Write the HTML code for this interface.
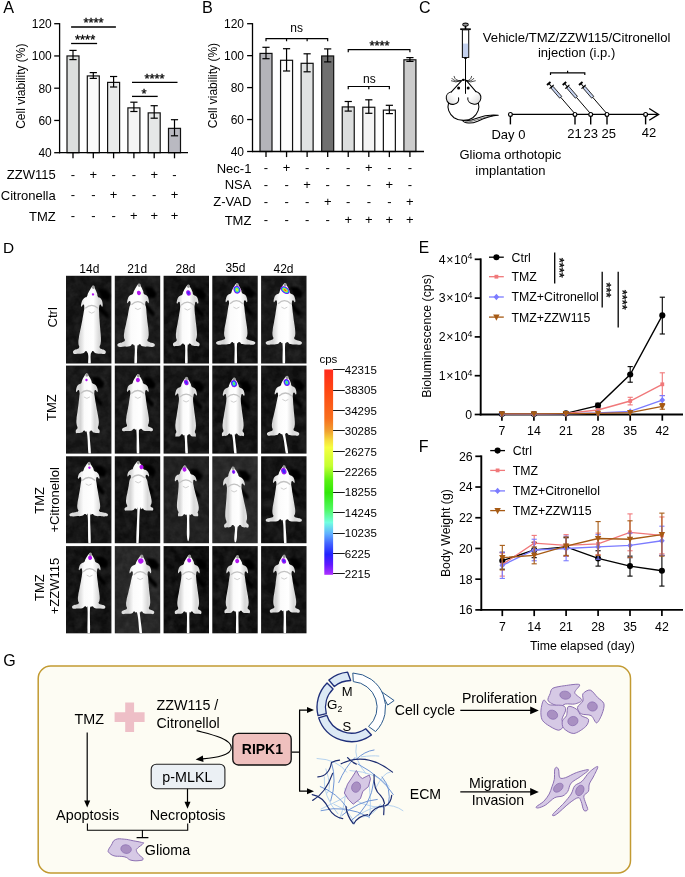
<!DOCTYPE html>
<html lang="en"><head><meta charset="utf-8"><title>Figure</title>
<style>html,body{margin:0;padding:0;background:#fff;width:685px;height:877px;overflow:hidden}svg{display:block;will-change:transform}text{font-family:"Liberation Sans",sans-serif}</style>
</head><body>
<svg width="685" height="877" viewBox="0 0 685 877">
<defs>
<linearGradient id="cbar" x1="0" y1="0" x2="0" y2="1">
<stop offset="0" stop-color="#ff2a1c"/>
<stop offset="0.1" stop-color="#ff4612"/>
<stop offset="0.24" stop-color="#f8701e"/>
<stop offset="0.3" stop-color="#f0a030"/>
<stop offset="0.345" stop-color="#f6dc3c"/>
<stop offset="0.38" stop-color="#f6ff40"/>
<stop offset="0.47" stop-color="#c4ff30"/>
<stop offset="0.54" stop-color="#58f010"/>
<stop offset="0.6" stop-color="#30e808"/>
<stop offset="0.68" stop-color="#50f860"/>
<stop offset="0.745" stop-color="#72ffe0"/>
<stop offset="0.8" stop-color="#60b0ff"/>
<stop offset="0.85" stop-color="#4060ff"/>
<stop offset="0.9" stop-color="#2222ff"/>
<stop offset="0.95" stop-color="#6018ff"/>
<stop offset="1" stop-color="#b030ff"/>
</linearGradient>
<linearGradient id="earL" x1="1" y1="0" x2="0" y2="1"><stop offset="0" stop-color="#ffffff"/><stop offset="0.35" stop-color="#ffffff"/><stop offset="0.7" stop-color="#e6e6e6"/><stop offset="1" stop-color="#d2d2d2"/></linearGradient>
<linearGradient id="earR" x1="0" y1="0" x2="1" y2="1"><stop offset="0" stop-color="#ffffff"/><stop offset="0.35" stop-color="#ffffff"/><stop offset="0.7" stop-color="#e6e6e6"/><stop offset="1" stop-color="#d2d2d2"/></linearGradient>
<linearGradient id="mouseg" x1="0" y1="0" x2="1" y2="0"><stop offset="0" stop-color="#e2e2e2"/><stop offset="0.2" stop-color="#d4d4d4"/><stop offset="0.36" stop-color="#fbfbfb"/><stop offset="0.62" stop-color="#ffffff"/><stop offset="0.8" stop-color="#d8d8d8"/><stop offset="1" stop-color="#e4e4e4"/></linearGradient>
<filter id="sblur" x="-30%" y="-30%" width="160%" height="160%"><feGaussianBlur stdDeviation="1.0"/></filter>
<filter id="mblur" x="-5%" y="-5%" width="110%" height="110%"><feGaussianBlur stdDeviation="0.65"/></filter>
<filter id="noise" x="0" y="0" width="100%" height="100%"><feTurbulence type="fractalNoise" baseFrequency="0.12" numOctaves="3" seed="4" result="n"/><feColorMatrix type="matrix" values="0 0 0 0 0.2  0 0 0 0 0.2  0 0 0 0 0.2  1.1 1.1 0 0 -0.75"/></filter>
<clipPath id="cells"><rect x="66.0" y="275.8" width="45.4" height="87.70"/><rect x="114.8" y="275.8" width="45.4" height="87.70"/><rect x="163.6" y="275.8" width="45.4" height="87.70"/><rect x="212.3" y="275.8" width="45.4" height="87.70"/><rect x="261.1" y="275.8" width="45.4" height="87.70"/><rect x="66.0" y="365.6" width="45.4" height="88.00"/><rect x="114.8" y="365.6" width="45.4" height="88.00"/><rect x="163.6" y="365.6" width="45.4" height="88.00"/><rect x="212.3" y="365.6" width="45.4" height="88.00"/><rect x="261.1" y="365.6" width="45.4" height="88.00"/><rect x="66.0" y="456.3" width="45.4" height="86.90"/><rect x="114.8" y="456.3" width="45.4" height="86.90"/><rect x="163.6" y="456.3" width="45.4" height="86.90"/><rect x="212.3" y="456.3" width="45.4" height="86.90"/><rect x="261.1" y="456.3" width="45.4" height="86.90"/><rect x="66.0" y="546.1" width="45.4" height="87.20"/><rect x="114.8" y="546.1" width="45.4" height="87.20"/><rect x="163.6" y="546.1" width="45.4" height="87.20"/><rect x="212.3" y="546.1" width="45.4" height="87.20"/><rect x="261.1" y="546.1" width="45.4" height="87.20"/></clipPath>
<clipPath id="cell00"><rect x="66.0" y="275.8" width="45.4" height="87.70"/></clipPath>
<clipPath id="cell01"><rect x="114.8" y="275.8" width="45.4" height="87.70"/></clipPath>
<clipPath id="cell02"><rect x="163.6" y="275.8" width="45.4" height="87.70"/></clipPath>
<clipPath id="cell03"><rect x="212.3" y="275.8" width="45.4" height="87.70"/></clipPath>
<clipPath id="cell04"><rect x="261.1" y="275.8" width="45.4" height="87.70"/></clipPath>
<clipPath id="cell10"><rect x="66.0" y="365.6" width="45.4" height="88.00"/></clipPath>
<clipPath id="cell11"><rect x="114.8" y="365.6" width="45.4" height="88.00"/></clipPath>
<clipPath id="cell12"><rect x="163.6" y="365.6" width="45.4" height="88.00"/></clipPath>
<clipPath id="cell13"><rect x="212.3" y="365.6" width="45.4" height="88.00"/></clipPath>
<clipPath id="cell14"><rect x="261.1" y="365.6" width="45.4" height="88.00"/></clipPath>
<clipPath id="cell20"><rect x="66.0" y="456.3" width="45.4" height="86.90"/></clipPath>
<clipPath id="cell21"><rect x="114.8" y="456.3" width="45.4" height="86.90"/></clipPath>
<clipPath id="cell22"><rect x="163.6" y="456.3" width="45.4" height="86.90"/></clipPath>
<clipPath id="cell23"><rect x="212.3" y="456.3" width="45.4" height="86.90"/></clipPath>
<clipPath id="cell24"><rect x="261.1" y="456.3" width="45.4" height="86.90"/></clipPath>
<clipPath id="cell30"><rect x="66.0" y="546.1" width="45.4" height="87.20"/></clipPath>
<clipPath id="cell31"><rect x="114.8" y="546.1" width="45.4" height="87.20"/></clipPath>
<clipPath id="cell32"><rect x="163.6" y="546.1" width="45.4" height="87.20"/></clipPath>
<clipPath id="cell33"><rect x="212.3" y="546.1" width="45.4" height="87.20"/></clipPath>
<clipPath id="cell34"><rect x="261.1" y="546.1" width="45.4" height="87.20"/></clipPath>
</defs>
<rect width="685" height="877" fill="#fff"/>
<text x="3.20" y="12.50" font-size="16.2" text-anchor="start" fill="#000">A</text>
<rect x="67.00" y="55.95" width="12" height="96.75" fill="#dcdedd" stroke="#111" stroke-width="1.2"/>
<line x1="73.00" y1="50.40" x2="73.00" y2="59.60" stroke="#000" stroke-width="1.2"/>
<line x1="69.40" y1="50.40" x2="76.60" y2="50.40" stroke="#000" stroke-width="1.2"/>
<line x1="69.40" y1="59.60" x2="76.60" y2="59.60" stroke="#000" stroke-width="1.2"/>
<rect x="87.30" y="75.94" width="12" height="76.75" fill="#f9f9f9" stroke="#111" stroke-width="1.2"/>
<line x1="93.30" y1="72.60" x2="93.30" y2="78.40" stroke="#000" stroke-width="1.2"/>
<line x1="89.70" y1="72.60" x2="96.90" y2="72.60" stroke="#000" stroke-width="1.2"/>
<line x1="89.70" y1="78.40" x2="96.90" y2="78.40" stroke="#000" stroke-width="1.2"/>
<rect x="107.60" y="82.39" width="12" height="70.30" fill="#e9ebeb" stroke="#111" stroke-width="1.2"/>
<line x1="113.60" y1="76.50" x2="113.60" y2="87.00" stroke="#000" stroke-width="1.2"/>
<line x1="110.00" y1="76.50" x2="117.20" y2="76.50" stroke="#000" stroke-width="1.2"/>
<line x1="110.00" y1="87.00" x2="117.20" y2="87.00" stroke="#000" stroke-width="1.2"/>
<rect x="127.90" y="107.87" width="12" height="44.83" fill="#f5f5f5" stroke="#111" stroke-width="1.2"/>
<line x1="133.90" y1="102.20" x2="133.90" y2="111.50" stroke="#000" stroke-width="1.2"/>
<line x1="130.30" y1="102.20" x2="137.50" y2="102.20" stroke="#000" stroke-width="1.2"/>
<line x1="130.30" y1="111.50" x2="137.50" y2="111.50" stroke="#000" stroke-width="1.2"/>
<rect x="148.20" y="112.87" width="12" height="39.83" fill="#e5e7e7" stroke="#111" stroke-width="1.2"/>
<line x1="154.20" y1="105.70" x2="154.20" y2="118.20" stroke="#000" stroke-width="1.2"/>
<line x1="150.60" y1="105.70" x2="157.80" y2="105.70" stroke="#000" stroke-width="1.2"/>
<line x1="150.60" y1="118.20" x2="157.80" y2="118.20" stroke="#000" stroke-width="1.2"/>
<rect x="168.50" y="128.35" width="12" height="24.35" fill="#b9b9c1" stroke="#111" stroke-width="1.2"/>
<line x1="174.50" y1="119.70" x2="174.50" y2="135.80" stroke="#000" stroke-width="1.2"/>
<line x1="170.90" y1="119.70" x2="178.10" y2="119.70" stroke="#000" stroke-width="1.2"/>
<line x1="170.90" y1="135.80" x2="178.10" y2="135.80" stroke="#000" stroke-width="1.2"/>
<line x1="59.60" y1="23.10" x2="59.60" y2="153.30" stroke="#000" stroke-width="1.3"/>
<line x1="59.00" y1="152.70" x2="188.00" y2="152.70" stroke="#000" stroke-width="1.3"/>
<line x1="54.20" y1="23.70" x2="59.60" y2="23.70" stroke="#000" stroke-width="1.3"/>
<text x="51.80" y="28.00" font-size="12" text-anchor="end" fill="#000">120</text>
<line x1="54.20" y1="55.95" x2="59.60" y2="55.95" stroke="#000" stroke-width="1.3"/>
<text x="51.80" y="60.25" font-size="12" text-anchor="end" fill="#000">100</text>
<line x1="54.20" y1="88.20" x2="59.60" y2="88.20" stroke="#000" stroke-width="1.3"/>
<text x="51.80" y="92.50" font-size="12" text-anchor="end" fill="#000">80</text>
<line x1="54.20" y1="120.45" x2="59.60" y2="120.45" stroke="#000" stroke-width="1.3"/>
<text x="51.80" y="124.75" font-size="12" text-anchor="end" fill="#000">60</text>
<line x1="54.20" y1="152.70" x2="59.60" y2="152.70" stroke="#000" stroke-width="1.3"/>
<text x="51.80" y="157.00" font-size="12" text-anchor="end" fill="#000">40</text>
<line x1="73.00" y1="152.70" x2="73.00" y2="158.30" stroke="#000" stroke-width="1.3"/>
<line x1="93.30" y1="152.70" x2="93.30" y2="158.30" stroke="#000" stroke-width="1.3"/>
<line x1="113.60" y1="152.70" x2="113.60" y2="158.30" stroke="#000" stroke-width="1.3"/>
<line x1="133.90" y1="152.70" x2="133.90" y2="158.30" stroke="#000" stroke-width="1.3"/>
<line x1="154.20" y1="152.70" x2="154.20" y2="158.30" stroke="#000" stroke-width="1.3"/>
<line x1="174.50" y1="152.70" x2="174.50" y2="158.30" stroke="#000" stroke-width="1.3"/>
<text x="25.50" y="86.20" font-size="12" text-anchor="middle" fill="#000" transform="rotate(-90 25.50 86.20)">Cell viability (%)</text>
<line x1="71.10" y1="27.00" x2="115.90" y2="27.00" stroke="#000" stroke-width="1.3"/>
<text x="93.50" y="26.50" font-size="13" text-anchor="middle" fill="#000" stroke="#000" stroke-width="0.3">****</text>
<line x1="71.10" y1="43.50" x2="97.10" y2="43.50" stroke="#000" stroke-width="1.3"/>
<text x="85.10" y="44.30" font-size="13" text-anchor="middle" fill="#000" stroke="#000" stroke-width="0.3">****</text>
<line x1="132.00" y1="82.30" x2="177.50" y2="82.30" stroke="#000" stroke-width="1.3"/>
<text x="154.50" y="82.50" font-size="13" text-anchor="middle" fill="#000" stroke="#000" stroke-width="0.3">****</text>
<line x1="132.00" y1="96.40" x2="157.70" y2="96.40" stroke="#000" stroke-width="1.3"/>
<text x="144.00" y="97.80" font-size="13" text-anchor="middle" fill="#000" stroke="#000" stroke-width="0.3">*</text>
<text x="55.70" y="179.30" font-size="13" text-anchor="end" fill="#000">ZZW115</text>
<text x="73.00" y="178.70" font-size="13" text-anchor="middle" fill="#000">-</text>
<text x="93.30" y="178.70" font-size="13" text-anchor="middle" fill="#000">+</text>
<text x="113.60" y="178.70" font-size="13" text-anchor="middle" fill="#000">-</text>
<text x="133.90" y="178.70" font-size="13" text-anchor="middle" fill="#000">-</text>
<text x="154.20" y="178.70" font-size="13" text-anchor="middle" fill="#000">+</text>
<text x="174.50" y="178.70" font-size="13" text-anchor="middle" fill="#000">-</text>
<text x="55.70" y="199.90" font-size="13" text-anchor="end" fill="#000">Citronella</text>
<text x="73.00" y="199.30" font-size="13" text-anchor="middle" fill="#000">-</text>
<text x="93.30" y="199.30" font-size="13" text-anchor="middle" fill="#000">-</text>
<text x="113.60" y="199.30" font-size="13" text-anchor="middle" fill="#000">+</text>
<text x="133.90" y="199.30" font-size="13" text-anchor="middle" fill="#000">-</text>
<text x="154.20" y="199.30" font-size="13" text-anchor="middle" fill="#000">-</text>
<text x="174.50" y="199.30" font-size="13" text-anchor="middle" fill="#000">+</text>
<text x="55.70" y="220.50" font-size="13" text-anchor="end" fill="#000">TMZ</text>
<text x="73.00" y="219.90" font-size="13" text-anchor="middle" fill="#000">-</text>
<text x="93.30" y="219.90" font-size="13" text-anchor="middle" fill="#000">-</text>
<text x="113.60" y="219.90" font-size="13" text-anchor="middle" fill="#000">-</text>
<text x="133.90" y="219.90" font-size="13" text-anchor="middle" fill="#000">+</text>
<text x="154.20" y="219.90" font-size="13" text-anchor="middle" fill="#000">+</text>
<text x="174.50" y="219.90" font-size="13" text-anchor="middle" fill="#000">+</text>
<text x="201.90" y="12.50" font-size="16.2" text-anchor="start" fill="#000">B</text>
<rect x="260.00" y="53.41" width="12" height="98.09" fill="#b4b4b9" stroke="#111" stroke-width="1.2"/>
<line x1="266.00" y1="47.30" x2="266.00" y2="58.70" stroke="#000" stroke-width="1.2"/>
<line x1="262.40" y1="47.30" x2="269.60" y2="47.30" stroke="#000" stroke-width="1.2"/>
<line x1="262.40" y1="58.70" x2="269.60" y2="58.70" stroke="#000" stroke-width="1.2"/>
<rect x="280.56" y="60.28" width="12" height="91.22" fill="#fcfcfc" stroke="#111" stroke-width="1.2"/>
<line x1="286.56" y1="48.70" x2="286.56" y2="71.00" stroke="#000" stroke-width="1.2"/>
<line x1="282.96" y1="48.70" x2="290.16" y2="48.70" stroke="#000" stroke-width="1.2"/>
<line x1="282.96" y1="71.00" x2="290.16" y2="71.00" stroke="#000" stroke-width="1.2"/>
<rect x="301.12" y="63.32" width="12" height="88.18" fill="#e0e2e2" stroke="#111" stroke-width="1.2"/>
<line x1="307.12" y1="53.80" x2="307.12" y2="71.80" stroke="#000" stroke-width="1.2"/>
<line x1="303.52" y1="53.80" x2="310.72" y2="53.80" stroke="#000" stroke-width="1.2"/>
<line x1="303.52" y1="71.80" x2="310.72" y2="71.80" stroke="#000" stroke-width="1.2"/>
<rect x="321.68" y="55.97" width="12" height="95.53" fill="#707070" stroke="#111" stroke-width="1.2"/>
<line x1="327.68" y1="48.90" x2="327.68" y2="61.90" stroke="#000" stroke-width="1.2"/>
<line x1="324.08" y1="48.90" x2="331.28" y2="48.90" stroke="#000" stroke-width="1.2"/>
<line x1="324.08" y1="61.90" x2="331.28" y2="61.90" stroke="#000" stroke-width="1.2"/>
<rect x="342.24" y="106.93" width="12" height="44.57" fill="#dcdede" stroke="#111" stroke-width="1.2"/>
<line x1="348.24" y1="101.50" x2="348.24" y2="111.10" stroke="#000" stroke-width="1.2"/>
<line x1="344.64" y1="101.50" x2="351.84" y2="101.50" stroke="#000" stroke-width="1.2"/>
<line x1="344.64" y1="111.10" x2="351.84" y2="111.10" stroke="#000" stroke-width="1.2"/>
<rect x="362.80" y="107.25" width="12" height="44.25" fill="#f4f4f4" stroke="#111" stroke-width="1.2"/>
<line x1="368.80" y1="99.80" x2="368.80" y2="113.30" stroke="#000" stroke-width="1.2"/>
<line x1="365.20" y1="99.80" x2="372.40" y2="99.80" stroke="#000" stroke-width="1.2"/>
<line x1="365.20" y1="113.30" x2="372.40" y2="113.30" stroke="#000" stroke-width="1.2"/>
<rect x="383.36" y="110.12" width="12" height="41.38" fill="#ffffff" stroke="#111" stroke-width="1.2"/>
<line x1="389.36" y1="105.30" x2="389.36" y2="113.60" stroke="#000" stroke-width="1.2"/>
<line x1="385.76" y1="105.30" x2="392.96" y2="105.30" stroke="#000" stroke-width="1.2"/>
<line x1="385.76" y1="113.60" x2="392.96" y2="113.60" stroke="#000" stroke-width="1.2"/>
<rect x="403.92" y="59.80" width="12" height="91.70" fill="#cccccc" stroke="#111" stroke-width="1.2"/>
<line x1="409.92" y1="57.60" x2="409.92" y2="61.40" stroke="#000" stroke-width="1.2"/>
<line x1="406.32" y1="57.60" x2="413.52" y2="57.60" stroke="#000" stroke-width="1.2"/>
<line x1="406.32" y1="61.40" x2="413.52" y2="61.40" stroke="#000" stroke-width="1.2"/>
<line x1="252.50" y1="23.10" x2="252.50" y2="152.10" stroke="#000" stroke-width="1.3"/>
<line x1="251.90" y1="151.50" x2="424.00" y2="151.50" stroke="#000" stroke-width="1.3"/>
<line x1="247.10" y1="23.70" x2="252.50" y2="23.70" stroke="#000" stroke-width="1.3"/>
<text x="244.00" y="28.00" font-size="12" text-anchor="end" fill="#000">120</text>
<line x1="247.10" y1="55.65" x2="252.50" y2="55.65" stroke="#000" stroke-width="1.3"/>
<text x="244.00" y="59.95" font-size="12" text-anchor="end" fill="#000">100</text>
<line x1="247.10" y1="87.60" x2="252.50" y2="87.60" stroke="#000" stroke-width="1.3"/>
<text x="244.00" y="91.90" font-size="12" text-anchor="end" fill="#000">80</text>
<line x1="247.10" y1="119.55" x2="252.50" y2="119.55" stroke="#000" stroke-width="1.3"/>
<text x="244.00" y="123.85" font-size="12" text-anchor="end" fill="#000">60</text>
<line x1="247.10" y1="151.50" x2="252.50" y2="151.50" stroke="#000" stroke-width="1.3"/>
<text x="244.00" y="155.80" font-size="12" text-anchor="end" fill="#000">40</text>
<line x1="266.00" y1="151.50" x2="266.00" y2="157.10" stroke="#000" stroke-width="1.3"/>
<line x1="286.56" y1="151.50" x2="286.56" y2="157.10" stroke="#000" stroke-width="1.3"/>
<line x1="307.12" y1="151.50" x2="307.12" y2="157.10" stroke="#000" stroke-width="1.3"/>
<line x1="327.68" y1="151.50" x2="327.68" y2="157.10" stroke="#000" stroke-width="1.3"/>
<line x1="348.24" y1="151.50" x2="348.24" y2="157.10" stroke="#000" stroke-width="1.3"/>
<line x1="368.80" y1="151.50" x2="368.80" y2="157.10" stroke="#000" stroke-width="1.3"/>
<line x1="389.36" y1="151.50" x2="389.36" y2="157.10" stroke="#000" stroke-width="1.3"/>
<line x1="409.92" y1="151.50" x2="409.92" y2="157.10" stroke="#000" stroke-width="1.3"/>
<text x="217.00" y="85.60" font-size="12" text-anchor="middle" fill="#000" transform="rotate(-90 217.00 85.60)">Cell viability (%)</text>
<path d="M266.00 41.2 V38.7 H327.68 V41.2 M286.56 38.7 V41.2 M307.12 38.7 V41.2" fill="none" stroke="#000" stroke-width="1.2"/>
<text x="296.60" y="32.40" font-size="12" text-anchor="middle" fill="#000">ns</text>
<path d="M348.24 52.3 V49.6 H409.92 V52.3" fill="none" stroke="#000" stroke-width="1.2"/>
<text x="379.50" y="50.00" font-size="13" text-anchor="middle" fill="#000" stroke="#000" stroke-width="0.3">****</text>
<path d="M348.24 89.2 V86.5 H389.36 V89.2 M368.80 86.5 V89.2" fill="none" stroke="#000" stroke-width="1.2"/>
<text x="369.30" y="82.50" font-size="12" text-anchor="middle" fill="#000">ns</text>
<text x="251.40" y="172.90" font-size="13" text-anchor="end" fill="#000">Nec-1</text>
<text x="266.00" y="172.30" font-size="13" text-anchor="middle" fill="#000">-</text>
<text x="286.56" y="172.30" font-size="13" text-anchor="middle" fill="#000">+</text>
<text x="307.12" y="172.30" font-size="13" text-anchor="middle" fill="#000">-</text>
<text x="327.68" y="172.30" font-size="13" text-anchor="middle" fill="#000">-</text>
<text x="348.24" y="172.30" font-size="13" text-anchor="middle" fill="#000">-</text>
<text x="368.80" y="172.30" font-size="13" text-anchor="middle" fill="#000">+</text>
<text x="389.36" y="172.30" font-size="13" text-anchor="middle" fill="#000">-</text>
<text x="409.92" y="172.30" font-size="13" text-anchor="middle" fill="#000">-</text>
<text x="251.40" y="189.20" font-size="13" text-anchor="end" fill="#000">NSA</text>
<text x="266.00" y="188.60" font-size="13" text-anchor="middle" fill="#000">-</text>
<text x="286.56" y="188.60" font-size="13" text-anchor="middle" fill="#000">-</text>
<text x="307.12" y="188.60" font-size="13" text-anchor="middle" fill="#000">+</text>
<text x="327.68" y="188.60" font-size="13" text-anchor="middle" fill="#000">-</text>
<text x="348.24" y="188.60" font-size="13" text-anchor="middle" fill="#000">-</text>
<text x="368.80" y="188.60" font-size="13" text-anchor="middle" fill="#000">-</text>
<text x="389.36" y="188.60" font-size="13" text-anchor="middle" fill="#000">+</text>
<text x="409.92" y="188.60" font-size="13" text-anchor="middle" fill="#000">-</text>
<text x="251.40" y="206.20" font-size="13" text-anchor="end" fill="#000">Z-VAD</text>
<text x="266.00" y="205.60" font-size="13" text-anchor="middle" fill="#000">-</text>
<text x="286.56" y="205.60" font-size="13" text-anchor="middle" fill="#000">-</text>
<text x="307.12" y="205.60" font-size="13" text-anchor="middle" fill="#000">-</text>
<text x="327.68" y="205.60" font-size="13" text-anchor="middle" fill="#000">+</text>
<text x="348.24" y="205.60" font-size="13" text-anchor="middle" fill="#000">-</text>
<text x="368.80" y="205.60" font-size="13" text-anchor="middle" fill="#000">-</text>
<text x="389.36" y="205.60" font-size="13" text-anchor="middle" fill="#000">-</text>
<text x="409.92" y="205.60" font-size="13" text-anchor="middle" fill="#000">+</text>
<text x="251.40" y="224.60" font-size="13" text-anchor="end" fill="#000">TMZ</text>
<text x="266.00" y="224.00" font-size="13" text-anchor="middle" fill="#000">-</text>
<text x="286.56" y="224.00" font-size="13" text-anchor="middle" fill="#000">-</text>
<text x="307.12" y="224.00" font-size="13" text-anchor="middle" fill="#000">-</text>
<text x="327.68" y="224.00" font-size="13" text-anchor="middle" fill="#000">-</text>
<text x="348.24" y="224.00" font-size="13" text-anchor="middle" fill="#000">+</text>
<text x="368.80" y="224.00" font-size="13" text-anchor="middle" fill="#000">+</text>
<text x="389.36" y="224.00" font-size="13" text-anchor="middle" fill="#000">+</text>
<text x="409.92" y="224.00" font-size="13" text-anchor="middle" fill="#000">+</text>
<text x="418.90" y="12.60" font-size="16" text-anchor="start" fill="#000">C</text>
<ellipse cx="465.5" cy="24.6" rx="2.7" ry="1.5" fill="#fff" stroke="#111" stroke-width="1.1"/>
<ellipse cx="465.5" cy="24.6" rx="1.1" ry="0.5" fill="#fff" stroke="#111" stroke-width="0.5"/>
<line x1="465.50" y1="26.00" x2="465.50" y2="29.00" stroke="#000" stroke-width="1.6"/>
<line x1="460.20" y1="29.20" x2="470.80" y2="29.20" stroke="#000" stroke-width="1.7"/>
<rect x="462.4" y="29.8" width="6.3" height="27.6" fill="#fff" stroke="#111" stroke-width="1.1"/>
<rect x="463.0" y="43.6" width="5.1" height="13.3" fill="#c4d1ee"/>
<line x1="465.50" y1="57.40" x2="465.50" y2="94.00" stroke="#000" stroke-width="1.0"/>
<line x1="464.20" y1="58.20" x2="466.80" y2="58.20" stroke="#000" stroke-width="1.3"/>
<path d="M461.72 119.40 C464.52 124.13 471.53 123.78 477.66 121.15 C483.79 118.35 490.80 115.72 498.25 115.28 C491.68 114.50 483.79 115.55 476.79 118.35 C472.41 120.10 468.03 120.98 464.96 120.45 Z" fill="#fff" stroke="#000" stroke-width="1.05" stroke-linejoin="round"/>
<path d="M464.96 122.03 C471.53 122.55 479.41 118.17 493.43 115.55" fill="none" stroke="#222" stroke-width="0.6"/>
<path d="M448.50 103.28 C447.01 107.66 448.76 113.79 454.01 117.74 C459.27 121.24 468.03 121.24 472.85 117.74 C478.10 113.79 479.85 107.66 478.36 103.28 Z" fill="#fff" stroke="#000" stroke-width="1.05"/>
<path d="M461.90 80.34 L451.39 91.90 L453.14 105.04 L473.72 105.04 L475.91 91.63 L466.28 80.34 Z" fill="#fff" stroke="none" stroke-width="1.3"/>
<path d="M451.56 91.72 C448.32 92.34 445.78 94.96 446.31 98.47 C446.83 102.85 450.51 105.04 454.01 104.16 C457.08 103.46 459.27 101.09 458.57 97.85 L456.64 93.65 Z" fill="url(#earL)" stroke="none" stroke-width="1.3"/>
<path d="M451.56 91.72 C448.32 92.34 445.78 94.96 446.31 98.47 C446.83 102.85 450.51 105.04 454.01 104.16 C457.08 103.46 459.27 101.09 458.57 97.85" fill="none" stroke="#000" stroke-width="1.05" stroke-linecap="round"/>
<path d="M475.74 91.46 C478.98 92.07 481.34 94.96 480.82 98.47 C480.29 102.58 476.79 104.86 473.28 103.98 C470.22 103.28 467.15 101.09 467.85 97.85 L470.22 93.47 Z" fill="url(#earR)" stroke="none" stroke-width="1.3"/>
<path d="M475.74 91.46 C478.98 92.07 481.34 94.96 480.82 98.47 C480.29 102.58 476.79 104.86 473.28 103.98 C470.22 103.28 467.15 101.09 467.85 97.85" fill="none" stroke="#000" stroke-width="1.05" stroke-linecap="round"/>
<path d="M461.90 80.34 L451.39 91.90 M466.28 80.34 L475.91 91.63" fill="none" stroke="#000" stroke-width="1.05" stroke-linecap="round"/>
<circle cx="458.6" cy="88.1" r="1.5" fill="#000"/><circle cx="468.2" cy="88.1" r="1.5" fill="#000"/>
<ellipse cx="463.4" cy="79.9" rx="1.5" ry="1.1" fill="#000"/>
<path d="M461.02 80.69 Q454.89 80.95 454.01 75.96" fill="none" stroke="#000" stroke-width="0.7"/>
<path d="M461.02 80.69 Q454.45 82.09 451.65 78.06" fill="none" stroke="#000" stroke-width="0.7"/>
<path d="M461.02 80.69 Q455.77 83.14 451.04 80.69" fill="none" stroke="#000" stroke-width="0.7"/>
<path d="M466.10 80.69 Q470.83 80.95 471.71 75.96" fill="none" stroke="#000" stroke-width="0.7"/>
<path d="M466.10 80.69 Q471.36 82.09 473.98 78.06" fill="none" stroke="#000" stroke-width="0.7"/>
<path d="M466.10 80.69 Q470.66 83.14 475.74 80.69" fill="none" stroke="#000" stroke-width="0.7"/>
<line x1="465.50" y1="57.40" x2="465.50" y2="93.80" stroke="#000" stroke-width="1.0"/>
<text x="576.60" y="42.30" font-size="13.1" text-anchor="middle" fill="#000">Vehicle/TMZ/ZZW115/Citronellol</text>
<text x="576.60" y="57.30" font-size="13" text-anchor="middle" fill="#000">injection (i.p.)</text>
<path d="M550.5 74.9 V72.8 H584.8 V74.9 M567.6 72.8 V70.8" fill="none" stroke="#000" stroke-width="1.2"/>
<line x1="510.40" y1="114.40" x2="657.50" y2="114.40" stroke="#000" stroke-width="1.35"/>
<path d="M649.2 108.5 L658.6 114.4 L649.2 120.30000000000001" fill="none" stroke="#000" stroke-width="1.35"/>
<line x1="510.40" y1="114.40" x2="510.40" y2="124.40" stroke="#000" stroke-width="1.4"/>
<circle cx="510.4" cy="114.4" r="1.9" fill="#fff" stroke="#000" stroke-width="1.2"/>
<line x1="575.00" y1="114.40" x2="575.00" y2="124.40" stroke="#000" stroke-width="1.4"/>
<circle cx="575" cy="114.4" r="1.9" fill="#fff" stroke="#000" stroke-width="1.2"/>
<line x1="590.70" y1="114.40" x2="590.70" y2="124.40" stroke="#000" stroke-width="1.4"/>
<circle cx="590.7" cy="114.4" r="1.9" fill="#fff" stroke="#000" stroke-width="1.2"/>
<line x1="607.00" y1="114.40" x2="607.00" y2="124.40" stroke="#000" stroke-width="1.4"/>
<circle cx="607" cy="114.4" r="1.9" fill="#fff" stroke="#000" stroke-width="1.2"/>
<line x1="645.60" y1="114.40" x2="645.60" y2="124.40" stroke="#000" stroke-width="1.4"/>
<circle cx="645.6" cy="114.4" r="1.9" fill="#fff" stroke="#000" stroke-width="1.2"/>
<g transform="translate(574.10 112.80) rotate(-40.8)">
<line x1="0.00" y1="0.00" x2="0.00" y2="-20.50" stroke="#000" stroke-width="0.9"/>
<rect x="-1.35" y="-33.9" width="2.7" height="13.4" fill="#c4d1ee" stroke="#111" stroke-width="0.8"/>
<line x1="0.00" y1="-33.90" x2="0.00" y2="-39.00" stroke="#000" stroke-width="1.0"/>
<line x1="-2.80" y1="-34.40" x2="2.80" y2="-34.40" stroke="#000" stroke-width="1.1"/>
<line x1="-2.30" y1="-38.80" x2="2.30" y2="-38.80" stroke="#000" stroke-width="1.9"/>
</g>
<g transform="translate(589.80 112.80) rotate(-40.8)">
<line x1="0.00" y1="0.00" x2="0.00" y2="-20.50" stroke="#000" stroke-width="0.9"/>
<rect x="-1.35" y="-33.9" width="2.7" height="13.4" fill="#c4d1ee" stroke="#111" stroke-width="0.8"/>
<line x1="0.00" y1="-33.90" x2="0.00" y2="-39.00" stroke="#000" stroke-width="1.0"/>
<line x1="-2.80" y1="-34.40" x2="2.80" y2="-34.40" stroke="#000" stroke-width="1.1"/>
<line x1="-2.30" y1="-38.80" x2="2.30" y2="-38.80" stroke="#000" stroke-width="1.9"/>
</g>
<g transform="translate(606.10 112.80) rotate(-40.8)">
<line x1="0.00" y1="0.00" x2="0.00" y2="-20.50" stroke="#000" stroke-width="0.9"/>
<rect x="-1.35" y="-33.9" width="2.7" height="13.4" fill="#c4d1ee" stroke="#111" stroke-width="0.8"/>
<line x1="0.00" y1="-33.90" x2="0.00" y2="-39.00" stroke="#000" stroke-width="1.0"/>
<line x1="-2.80" y1="-34.40" x2="2.80" y2="-34.40" stroke="#000" stroke-width="1.1"/>
<line x1="-2.30" y1="-38.80" x2="2.30" y2="-38.80" stroke="#000" stroke-width="1.9"/>
</g>
<text x="508.40" y="138.60" font-size="13" text-anchor="middle" fill="#000">Day 0</text>
<text x="574.60" y="138.00" font-size="13" text-anchor="middle" fill="#000">21</text>
<text x="590.80" y="138.00" font-size="13" text-anchor="middle" fill="#000">23</text>
<text x="608.70" y="138.00" font-size="13" text-anchor="middle" fill="#000">25</text>
<text x="648.90" y="137.00" font-size="13" text-anchor="middle" fill="#000">42</text>
<text x="510.40" y="159.20" font-size="13" text-anchor="middle" fill="#000">Glioma orthotopic</text>
<text x="510.40" y="174.80" font-size="13" text-anchor="middle" fill="#000">implantation</text>
<text x="3.00" y="253.40" font-size="15.4" text-anchor="start" fill="#000">D</text>
<text x="89.30" y="273.00" font-size="12" text-anchor="middle" fill="#000">14d</text>
<text x="137.20" y="273.00" font-size="12" text-anchor="middle" fill="#000">21d</text>
<text x="185.50" y="273.00" font-size="12" text-anchor="middle" fill="#000">28d</text>
<text x="235.40" y="271.80" font-size="12" text-anchor="middle" fill="#000">35d</text>
<text x="283.50" y="273.00" font-size="12" text-anchor="middle" fill="#000">42d</text>
<text x="57.20" y="317.30" font-size="13" text-anchor="middle" fill="#000" transform="rotate(-90 57.20 317.30)">Ctrl</text>
<text x="56.10" y="407.70" font-size="13" text-anchor="middle" fill="#000" transform="rotate(-90 56.10 407.70)">TMZ</text>
<text x="44.00" y="500.40" font-size="13" text-anchor="middle" fill="#000" transform="rotate(-90 44.00 500.40)">TMZ</text>
<text x="59.00" y="499.90" font-size="13" text-anchor="middle" fill="#000" transform="rotate(-90 59.00 499.90)">+Citronellol</text>
<text x="44.00" y="587.70" font-size="13" text-anchor="middle" fill="#000" transform="rotate(-90 44.00 587.70)">TMZ</text>
<text x="59.00" y="586.00" font-size="13" text-anchor="middle" fill="#000" transform="rotate(-90 59.00 586.00)">+ZZW115</text>
<g>
<rect x="66.00" y="275.80" width="45.4" height="87.70" fill="#101010"/>
<rect x="114.80" y="275.80" width="45.4" height="87.70" fill="#161616"/>
<rect x="163.60" y="275.80" width="45.4" height="87.70" fill="#0d0d0d"/>
<rect x="212.30" y="275.80" width="45.4" height="87.70" fill="#0e0e0e"/>
<rect x="261.10" y="275.80" width="45.4" height="87.70" fill="#141414"/>
<rect x="66.00" y="365.60" width="45.4" height="88.00" fill="#141414"/>
<rect x="114.80" y="365.60" width="45.4" height="88.00" fill="#111111"/>
<rect x="163.60" y="365.60" width="45.4" height="88.00" fill="#101010"/>
<rect x="212.30" y="365.60" width="45.4" height="88.00" fill="#0e0e0e"/>
<rect x="261.10" y="365.60" width="45.4" height="88.00" fill="#0e0e0e"/>
<rect x="66.00" y="456.30" width="45.4" height="86.90" fill="#101010"/>
<rect x="114.80" y="456.30" width="45.4" height="86.90" fill="#0e0e0e"/>
<rect x="163.60" y="456.30" width="45.4" height="86.90" fill="#1c1c1c"/>
<rect x="212.30" y="456.30" width="45.4" height="86.90" fill="#242424"/>
<rect x="261.10" y="456.30" width="45.4" height="86.90" fill="#0e0e0e"/>
<rect x="66.00" y="546.10" width="45.4" height="87.20" fill="#0e0e0e"/>
<rect x="114.80" y="546.10" width="45.4" height="87.20" fill="#232323"/>
<rect x="163.60" y="546.10" width="45.4" height="87.20" fill="#0a0a0a"/>
<rect x="212.30" y="546.10" width="45.4" height="87.20" fill="#0c0c0c"/>
<rect x="261.10" y="546.10" width="45.4" height="87.20" fill="#0e0e0e"/>
<rect x="66.0" y="275.8" width="240.50" height="357.50" filter="url(#noise)" opacity="0.2" clip-path="url(#cells)"/>
</g>
<g clip-path="url(#cell00)"><g filter="url(#mblur)">
<path d="M98.0 289.0 l8 0.5 l5 6 l-2 5 l-7 -1 z M100.0 305.0 l9 10 l-1.5 4 l-9 -9 z" fill="#030303" filter="url(#sblur)"/>
<path d="M93.49 285.97 C94.24 286.82 94.35 287.19 95.30 289.15 C96.24 291.12 96.34 291.32 97.04 293.34 C97.75 295.36 96.97 295.35 97.94 296.73 C98.91 298.11 99.49 297.03 100.68 298.52 C101.87 300.01 101.96 300.13 102.39 302.31 C102.82 304.49 102.86 306.11 102.30 306.69 C101.74 307.28 101.13 304.24 100.27 304.50 C99.41 304.77 99.38 305.64 99.08 307.69 C98.78 309.74 99.02 308.99 99.14 312.18 C99.26 315.36 99.24 315.26 99.53 319.65 C99.81 324.03 99.84 323.84 100.20 328.62 C100.55 333.40 100.76 333.60 100.87 337.59 C100.97 341.58 100.93 341.02 100.60 343.57 C100.27 346.12 99.35 345.72 99.64 347.16 C99.94 348.59 100.36 348.15 101.70 348.95 C103.04 349.75 103.59 349.30 104.67 350.15 C105.75 351.00 105.84 351.13 105.76 352.14 C105.68 353.15 105.65 353.51 104.36 353.93 C103.07 354.36 103.20 353.89 100.92 353.73 C98.65 353.57 97.83 354.03 95.82 353.33 C93.82 352.64 94.50 351.46 93.40 351.14 C92.30 350.82 92.43 350.97 91.70 352.14 C90.97 353.31 90.96 352.29 90.65 355.53 C90.34 358.77 91.16 361.96 90.55 364.30 C89.94 366.64 88.96 366.64 88.35 364.30 C87.74 361.96 88.58 358.77 88.25 355.53 C87.92 352.29 87.86 353.31 87.10 352.14 C86.34 350.97 86.50 350.82 85.40 351.14 C84.30 351.46 84.98 352.64 82.98 353.33 C80.97 354.03 80.15 353.57 77.88 353.73 C75.60 353.89 75.73 354.36 74.44 353.93 C73.15 353.51 73.12 353.15 73.04 352.14 C72.96 351.13 73.05 351.00 74.13 350.15 C75.21 349.30 75.76 349.75 77.10 348.95 C78.44 348.15 78.80 348.59 79.16 347.16 C79.52 345.72 78.51 346.12 78.44 343.57 C78.37 341.02 78.31 341.58 78.89 337.59 C79.48 333.60 79.71 333.40 80.64 328.62 C81.58 323.84 81.58 324.03 82.39 319.65 C83.20 315.26 83.18 315.36 83.68 312.18 C84.19 308.99 84.34 309.74 84.28 307.69 C84.22 305.64 84.30 304.77 83.47 304.50 C82.65 304.24 81.67 307.28 81.18 306.69 C80.69 306.11 80.93 304.49 81.62 302.31 C82.31 300.13 82.42 300.01 83.78 298.52 C85.15 297.03 85.60 298.11 86.74 296.73 C87.88 295.35 87.10 295.36 88.04 293.34 C88.99 291.32 89.11 291.12 90.30 289.15 C91.48 287.19 91.64 286.82 92.49 285.97 C93.34 285.11 92.74 285.11 93.49 285.97 Z" fill="url(#mouseg)"/>
<path d="M85.3 308.3 Q91.7 302.3 98.1 308.3" fill="none" stroke="#c2c2c2" stroke-width="1.2"/>
<path d="M88.7 311.7 Q91.7 314.7 94.7 311.7" fill="none" stroke="#d0d0d0" stroke-width="1"/>
<ellipse cx="93.4" cy="287.2" rx="1.5" ry="1.8" fill="#9a9a9a"/>
</g></g>
<g clip-path="url(#cell01)"><g filter="url(#mblur)">
<path d="M143.9 287.0 l8 0.5 l5 6 l-2 5 l-7 -1 z M145.9 303.0 l9 10 l-1.5 4 l-9 -9 z" fill="#030303" filter="url(#sblur)"/>
<path d="M139.39 283.97 C140.15 284.76 140.27 285.10 141.24 286.92 C142.22 288.74 142.31 288.93 143.05 290.79 C143.78 292.66 143.00 292.65 143.99 293.93 C144.97 295.21 145.54 294.21 146.75 295.59 C147.96 296.96 148.05 297.07 148.51 299.09 C148.97 301.11 149.04 302.61 148.48 303.15 C147.92 303.69 147.28 300.87 146.42 301.12 C145.57 301.36 145.34 302.18 145.27 304.07 C145.21 305.96 145.78 305.27 146.18 308.22 C146.57 311.17 146.36 311.07 146.75 315.13 C147.15 319.19 147.18 319.00 147.67 323.43 C148.15 327.85 148.38 328.04 148.58 331.72 C148.78 335.41 148.72 334.89 148.40 337.25 C148.08 339.61 146.98 339.25 147.39 340.57 C147.79 341.90 148.30 341.50 149.91 342.23 C151.53 342.97 152.16 342.55 153.45 343.34 C154.74 344.13 154.85 344.25 154.75 345.18 C154.65 346.12 154.61 346.45 153.08 346.84 C151.54 347.24 151.76 346.81 148.98 346.66 C146.20 346.51 145.01 346.93 142.64 346.29 C140.28 345.65 141.23 344.56 140.10 344.26 C138.97 343.97 139.17 344.10 138.40 345.18 C137.63 346.26 137.64 343.22 137.20 348.32 C136.76 353.41 137.46 360.04 136.75 364.30 C136.04 368.56 135.07 368.56 134.55 364.30 C134.03 360.04 135.00 353.41 134.80 348.32 C134.60 343.22 134.52 346.26 133.80 345.18 C133.08 344.10 133.23 343.97 132.10 344.26 C130.97 344.56 131.92 345.65 129.56 346.29 C127.19 346.93 126.00 346.51 123.22 346.66 C120.44 346.81 120.66 347.24 119.12 346.84 C117.59 346.45 117.55 346.12 117.45 345.18 C117.35 344.25 117.46 344.13 118.75 343.34 C120.04 342.55 120.67 342.97 122.29 342.23 C123.90 341.50 124.36 341.90 124.81 340.57 C125.27 339.25 124.10 339.61 123.98 337.25 C123.86 334.89 123.80 335.41 124.37 331.72 C124.94 328.04 125.18 327.85 126.12 323.43 C127.06 319.00 127.07 319.19 127.87 315.13 C128.68 311.07 128.45 311.17 129.15 308.22 C129.84 305.27 130.35 305.96 130.47 304.07 C130.60 302.18 130.45 301.36 129.62 301.12 C128.79 300.87 127.86 303.69 127.36 303.15 C126.86 302.61 127.08 301.11 127.74 299.09 C128.41 297.07 128.51 296.96 129.85 295.59 C131.20 294.21 131.67 295.21 132.79 293.93 C133.90 292.65 133.12 292.66 134.05 290.79 C134.97 288.93 135.08 288.74 136.24 286.92 C137.40 285.10 137.55 284.76 138.39 283.97 C139.23 283.19 138.63 283.19 139.39 283.97 Z" fill="url(#mouseg)"/>
<path d="M131.5 304.7 Q137.9 298.7 144.3 304.7" fill="none" stroke="#c2c2c2" stroke-width="1.2"/>
<path d="M134.9 308.1 Q137.9 311.1 140.9 308.1" fill="none" stroke="#d0d0d0" stroke-width="1"/>
<ellipse cx="139.3" cy="285.2" rx="1.5" ry="1.8" fill="#9a9a9a"/>
</g></g>
<g clip-path="url(#cell02)"><g filter="url(#mblur)">
<path d="M193.1 288.0 l8 0.5 l5 6 l-2 5 l-7 -1 z M195.1 304.0 l9 10 l-1.5 4 l-9 -9 z" fill="#030303" filter="url(#sblur)"/>
<path d="M188.59 284.97 C189.37 285.73 189.49 286.07 190.50 287.84 C191.51 289.61 191.61 289.79 192.37 291.61 C193.14 293.42 192.36 293.41 193.37 294.66 C194.38 295.90 194.93 294.93 196.16 296.27 C197.39 297.61 197.49 297.72 197.99 299.68 C198.48 301.64 198.58 303.10 198.03 303.62 C197.48 304.15 196.79 301.41 195.94 301.65 C195.09 301.89 195.21 302.68 194.84 304.52 C194.47 306.36 194.48 305.69 194.56 308.56 C194.63 311.43 194.74 311.34 195.12 315.28 C195.50 319.23 195.53 319.05 195.99 323.36 C196.45 327.66 196.65 327.84 196.85 331.43 C197.06 335.02 197.01 334.52 196.76 336.81 C196.51 339.11 195.85 338.75 195.91 340.04 C195.98 341.33 196.21 340.94 197.01 341.65 C197.82 342.37 198.22 341.97 198.91 342.73 C199.61 343.50 199.67 343.62 199.61 344.52 C199.56 345.43 199.54 345.76 198.71 346.14 C197.89 346.52 198.17 346.10 196.51 345.96 C194.86 345.82 194.16 346.22 192.50 345.60 C190.84 344.98 191.34 343.91 190.30 343.63 C189.26 343.34 189.33 343.47 188.60 344.52 C187.87 345.58 187.86 342.30 187.55 347.57 C187.24 352.85 188.06 359.84 187.45 364.30 C186.84 368.76 185.86 368.76 185.25 364.30 C184.64 359.84 185.48 352.85 185.15 347.57 C184.82 342.30 184.76 345.58 184.00 344.52 C183.24 343.47 183.34 343.34 182.30 343.63 C181.26 343.91 181.76 344.98 180.10 345.60 C178.44 346.22 177.74 345.82 176.09 345.96 C174.43 346.10 174.71 346.52 173.89 346.14 C173.06 345.76 173.04 345.43 172.99 344.52 C172.93 343.62 172.99 343.50 173.69 342.73 C174.38 341.97 174.78 342.37 175.59 341.65 C176.39 340.94 176.59 341.33 176.69 340.04 C176.79 338.75 176.08 339.11 175.96 336.81 C175.84 334.52 175.78 335.02 176.23 331.43 C176.67 327.84 176.88 327.66 177.63 323.36 C178.38 319.05 178.39 319.23 179.04 315.28 C179.68 311.34 179.78 311.43 180.05 308.56 C180.32 305.69 180.28 306.36 180.04 304.52 C179.80 302.68 179.97 301.89 179.14 301.65 C178.30 301.41 177.42 304.15 176.91 303.62 C176.40 303.10 176.59 301.64 177.22 299.68 C177.85 297.72 177.95 297.61 179.27 296.27 C180.59 294.93 181.08 295.90 182.17 294.66 C183.26 293.41 182.48 293.42 183.37 291.61 C184.26 289.79 184.37 289.61 185.50 287.84 C186.62 286.07 186.77 285.73 187.59 284.97 C188.42 284.20 187.82 284.20 188.59 284.97 Z" fill="url(#mouseg)"/>
<path d="M181.1 305.2 Q187.5 299.2 193.9 305.2" fill="none" stroke="#c2c2c2" stroke-width="1.2"/>
<path d="M184.5 308.6 Q187.5 311.6 190.5 308.6" fill="none" stroke="#d0d0d0" stroke-width="1"/>
<ellipse cx="188.5" cy="286.2" rx="1.5" ry="1.8" fill="#9a9a9a"/>
</g></g>
<g clip-path="url(#cell03)"><g filter="url(#mblur)">
<path d="M241.8 286.5 l8 0.5 l5 6 l-2 5 l-7 -1 z M243.8 302.5 l9 10 l-1.5 4 l-9 -9 z" fill="#030303" filter="url(#sblur)"/>
<path d="M237.30 283.47 C238.08 284.24 238.21 284.57 239.24 286.34 C240.27 288.11 240.37 288.29 241.16 290.11 C241.95 291.93 241.17 291.92 242.20 293.16 C243.23 294.40 243.76 293.44 245.01 294.78 C246.26 296.11 246.36 296.22 246.88 298.18 C247.40 300.14 247.51 301.60 246.97 302.13 C246.44 302.66 245.70 299.92 244.86 300.16 C244.01 300.40 243.93 301.19 243.80 303.03 C243.66 304.87 244.01 304.19 244.36 307.06 C244.70 309.93 244.60 309.84 245.09 313.79 C245.58 317.74 245.60 317.56 246.19 321.86 C246.77 326.17 246.99 326.35 247.28 329.93 C247.57 333.52 247.51 333.02 247.27 335.32 C247.02 337.61 245.75 337.25 246.36 338.55 C246.97 339.84 247.58 339.44 249.54 340.16 C251.51 340.88 252.20 340.47 253.72 341.24 C255.25 342.00 255.38 342.12 255.26 343.03 C255.15 343.94 255.10 344.26 253.28 344.64 C251.47 345.03 251.35 344.61 248.44 344.47 C245.54 344.32 244.71 344.73 242.38 344.11 C240.05 343.48 240.87 342.42 239.70 342.13 C238.53 341.85 238.73 341.98 238.00 343.03 C237.27 344.08 237.26 340.41 236.95 346.08 C236.64 351.75 237.46 359.44 236.85 364.30 C236.24 369.16 235.26 369.16 234.65 364.30 C234.04 359.44 234.88 351.75 234.55 346.08 C234.22 340.41 234.16 344.08 233.40 343.03 C232.64 341.98 232.87 341.85 231.70 342.13 C230.53 342.42 231.35 343.48 229.02 344.11 C226.69 344.73 225.86 344.32 222.96 344.47 C220.05 344.61 219.93 345.03 218.12 344.64 C216.30 344.26 216.25 343.94 216.14 343.03 C216.02 342.12 216.15 342.00 217.68 341.24 C219.20 340.47 219.89 340.88 221.86 340.16 C223.82 339.44 224.41 339.84 225.04 338.55 C225.67 337.25 224.37 337.61 224.21 335.32 C224.04 333.02 223.98 333.52 224.41 329.93 C224.85 326.35 225.08 326.17 225.84 321.86 C226.60 317.56 226.61 317.74 227.26 313.79 C227.91 309.84 227.81 309.93 228.27 307.06 C228.73 304.19 229.05 304.87 229.00 303.03 C228.94 301.19 228.89 300.40 228.06 300.16 C227.22 299.92 226.37 302.66 225.85 302.13 C225.34 301.60 225.51 300.14 226.11 298.18 C226.71 296.22 226.81 296.11 228.12 294.78 C229.42 293.44 229.92 294.40 231.00 293.16 C232.08 291.92 231.30 291.93 232.16 290.11 C233.02 288.29 233.13 288.11 234.24 286.34 C235.34 284.57 235.48 284.24 236.30 283.47 C237.11 282.71 236.51 282.71 237.30 283.47 Z" fill="url(#mouseg)"/>
<path d="M230.0 303.7 Q236.4 297.7 242.8 303.7" fill="none" stroke="#c2c2c2" stroke-width="1.2"/>
<path d="M233.4 307.1 Q236.4 310.1 239.4 307.1" fill="none" stroke="#d0d0d0" stroke-width="1"/>
<ellipse cx="237.2" cy="284.7" rx="1.5" ry="1.8" fill="#9a9a9a"/>
</g></g>
<g clip-path="url(#cell04)"><g filter="url(#mblur)">
<path d="M289.8 286.5 l8 0.5 l5 6 l-2 5 l-7 -1 z M291.8 302.5 l9 10 l-1.5 4 l-9 -9 z" fill="#030303" filter="url(#sblur)"/>
<path d="M285.30 283.47 C286.08 284.24 286.21 284.57 287.24 286.34 C288.28 288.11 288.38 288.29 289.17 290.11 C289.97 291.93 289.19 291.92 290.22 293.16 C291.25 294.40 291.78 293.44 293.03 294.78 C294.29 296.11 294.38 296.22 294.91 298.18 C295.43 300.14 295.55 301.60 295.01 302.13 C294.47 302.66 293.73 299.92 292.89 300.16 C292.04 300.40 292.00 301.19 291.83 303.03 C291.66 304.87 291.94 304.19 292.24 307.06 C292.55 309.93 292.49 309.84 292.97 313.79 C293.46 317.74 293.48 317.56 294.06 321.86 C294.64 326.17 294.86 326.35 295.14 329.93 C295.43 333.52 295.38 333.02 295.14 335.32 C294.90 337.61 293.78 337.25 294.25 338.55 C294.72 339.84 295.24 339.44 296.91 340.16 C298.58 340.88 299.20 340.47 300.52 341.24 C301.84 342.00 301.95 342.12 301.85 343.03 C301.75 343.94 301.71 344.26 300.14 344.64 C298.57 345.03 298.57 344.61 295.96 344.47 C293.35 344.32 292.54 344.73 290.36 344.11 C288.18 343.48 288.94 342.42 287.80 342.13 C286.66 341.85 286.83 341.98 286.10 343.03 C285.37 344.08 285.36 340.41 285.05 346.08 C284.74 351.75 285.56 359.44 284.95 364.30 C284.34 369.16 283.36 369.16 282.75 364.30 C282.14 359.44 282.98 351.75 282.65 346.08 C282.32 340.41 282.26 344.08 281.50 343.03 C280.74 341.98 280.94 341.85 279.80 342.13 C278.66 342.42 279.42 343.48 277.24 344.11 C275.06 344.73 274.25 344.32 271.64 344.47 C269.03 344.61 269.03 345.03 267.46 344.64 C265.89 344.26 265.85 343.94 265.75 343.03 C265.65 342.12 265.76 342.00 267.08 341.24 C268.40 340.47 269.02 340.88 270.69 340.16 C272.36 339.44 272.86 339.84 273.35 338.55 C273.84 337.25 272.70 337.61 272.53 335.32 C272.36 333.02 272.30 333.52 272.72 329.93 C273.14 326.35 273.37 326.17 274.11 321.86 C274.85 317.56 274.86 317.74 275.49 313.79 C276.12 309.84 276.06 309.93 276.47 307.06 C276.88 304.19 277.14 304.87 277.03 303.03 C276.93 301.19 276.92 300.40 276.09 300.16 C275.25 299.92 274.41 302.66 273.89 302.13 C273.37 301.60 273.54 300.14 274.14 298.18 C274.74 296.22 274.84 296.11 276.14 294.78 C277.44 293.44 277.94 294.40 279.02 293.16 C280.09 291.92 279.31 291.93 280.17 290.11 C281.03 288.29 281.14 288.11 282.24 286.34 C283.34 284.57 283.48 284.24 284.30 283.47 C285.11 282.71 284.51 282.71 285.30 283.47 Z" fill="url(#mouseg)"/>
<path d="M278.1 303.7 Q284.4 297.7 290.8 303.7" fill="none" stroke="#c2c2c2" stroke-width="1.2"/>
<path d="M281.4 307.1 Q284.4 310.1 287.4 307.1" fill="none" stroke="#d0d0d0" stroke-width="1"/>
<ellipse cx="285.2" cy="284.7" rx="1.5" ry="1.8" fill="#9a9a9a"/>
</g></g>
<g clip-path="url(#cell10)"><g filter="url(#mblur)">
<path d="M91.5 376.8 l8 0.5 l5 6 l-2 5 l-7 -1 z M93.5 392.8 l9 10 l-1.5 4 l-9 -9 z" fill="#030303" filter="url(#sblur)"/>
<path d="M87.00 373.80 C87.82 374.54 87.96 374.87 89.07 376.58 C90.17 378.30 90.28 378.47 91.15 380.24 C92.02 382.00 91.24 381.99 92.32 383.20 C93.40 384.40 93.90 383.46 95.20 384.76 C96.51 386.06 96.61 386.17 97.22 388.07 C97.82 389.97 98.00 391.39 97.48 391.90 C96.96 392.41 96.11 389.75 95.28 389.98 C94.44 390.21 94.48 390.98 94.34 392.77 C94.20 394.55 94.38 393.90 94.76 396.68 C95.13 399.47 95.11 399.38 95.75 403.21 C96.38 407.03 96.39 406.86 97.14 411.04 C97.88 415.21 98.10 415.39 98.53 418.87 C98.95 422.35 98.89 421.86 98.74 424.09 C98.58 426.31 98.08 425.97 97.94 427.22 C97.80 428.47 97.85 428.09 98.20 428.78 C98.56 429.48 98.88 429.09 99.27 429.83 C99.66 430.57 99.69 430.69 99.66 431.57 C99.63 432.45 99.62 432.76 99.16 433.13 C98.69 433.51 99.37 433.10 97.92 432.96 C96.48 432.82 95.38 433.22 93.72 432.61 C92.06 432.01 92.69 430.98 91.70 430.70 C90.71 430.42 90.57 430.55 90.00 431.57 C89.43 432.59 89.32 428.44 89.55 434.53 C89.78 440.61 91.09 449.10 90.85 454.40 C90.61 459.70 89.64 459.70 88.65 454.40 C87.66 449.10 88.02 440.61 87.15 434.53 C86.28 428.44 86.32 432.59 85.40 431.57 C84.48 430.55 84.69 430.42 83.70 430.70 C82.71 430.98 83.34 432.01 81.68 432.61 C80.02 433.22 78.92 432.82 77.48 432.96 C76.03 433.10 76.71 433.51 76.24 433.13 C75.78 432.76 75.77 432.45 75.74 431.57 C75.71 430.69 75.74 430.57 76.13 429.83 C76.52 429.09 76.84 429.48 77.20 428.78 C77.55 428.09 77.62 428.47 77.46 427.22 C77.30 425.97 76.82 426.31 76.58 424.09 C76.34 421.86 76.29 422.35 76.55 418.87 C76.82 415.39 77.04 415.21 77.58 411.04 C78.13 406.86 78.16 407.03 78.61 403.21 C79.07 399.38 79.06 399.47 79.30 396.68 C79.55 393.90 79.76 394.55 79.54 392.77 C79.32 390.98 79.32 390.21 78.48 389.98 C77.63 389.75 76.90 392.41 76.36 391.90 C75.82 391.39 75.93 389.97 76.45 388.07 C76.97 386.17 77.06 386.06 78.31 384.76 C79.55 383.46 80.09 384.40 81.12 383.20 C82.15 381.99 81.37 382.00 82.15 380.24 C82.94 378.47 83.04 378.30 84.07 376.58 C85.10 374.87 85.22 374.54 86.00 373.80 C86.79 373.06 86.19 373.06 87.00 373.80 Z" fill="url(#mouseg)"/>
<path d="M80.5 393.5 Q86.9 387.5 93.3 393.5" fill="none" stroke="#c2c2c2" stroke-width="1.2"/>
<path d="M83.9 396.9 Q86.9 399.9 89.9 396.9" fill="none" stroke="#d0d0d0" stroke-width="1"/>
<ellipse cx="86.9" cy="375.0" rx="1.5" ry="1.8" fill="#9a9a9a"/>
</g></g>
<g clip-path="url(#cell11)"><g filter="url(#mblur)">
<path d="M142.9 377.6 l8 0.5 l5 6 l-2 5 l-7 -1 z M144.9 393.6 l9 10 l-1.5 4 l-9 -9 z" fill="#030303" filter="url(#sblur)"/>
<path d="M138.40 374.60 C139.19 375.31 139.32 375.62 140.38 377.26 C141.43 378.89 141.54 379.06 142.35 380.74 C143.16 382.42 142.38 382.41 143.43 383.56 C144.47 384.71 145.00 383.82 146.26 385.06 C147.53 386.30 147.62 386.40 148.17 388.21 C148.72 390.03 148.85 391.38 148.32 391.86 C147.79 392.35 147.02 389.82 146.17 390.04 C145.33 390.26 145.30 390.99 145.15 392.69 C145.00 394.40 145.27 393.77 145.61 396.43 C145.94 399.09 145.89 399.00 146.41 402.65 C146.94 406.31 146.96 406.14 147.59 410.12 C148.22 414.11 148.44 414.27 148.76 417.59 C149.09 420.91 149.04 420.45 148.82 422.57 C148.60 424.70 147.76 424.37 147.95 425.56 C148.14 426.76 148.45 426.39 149.53 427.06 C150.61 427.72 151.10 427.34 152.00 428.05 C152.90 428.76 152.98 428.87 152.91 429.71 C152.84 430.55 152.81 430.85 151.74 431.21 C150.67 431.56 150.99 431.17 148.88 431.04 C146.77 430.91 145.79 431.28 143.82 430.71 C141.85 430.13 142.57 429.15 141.50 428.88 C140.43 428.62 140.49 428.74 139.80 429.71 C139.11 430.69 139.07 425.95 138.90 432.53 C138.73 439.12 139.67 448.57 139.15 454.40 C138.63 460.23 137.66 460.23 136.95 454.40 C136.24 448.57 136.97 439.12 136.50 432.53 C136.03 425.95 136.00 430.69 135.20 429.71 C134.40 428.74 134.57 428.62 133.50 428.88 C132.43 429.15 133.15 430.13 131.18 430.71 C129.21 431.28 128.23 430.91 126.12 431.04 C124.01 431.17 124.33 431.56 123.26 431.21 C122.19 430.85 122.16 430.55 122.09 429.71 C122.02 428.87 122.10 428.76 123.00 428.05 C123.90 427.34 124.39 427.72 125.47 427.06 C126.55 426.39 126.85 426.76 127.05 425.56 C127.25 424.37 126.40 424.70 126.21 422.57 C126.02 420.45 125.96 420.91 126.34 417.59 C126.72 414.27 126.95 414.11 127.64 410.12 C128.33 406.14 128.35 406.31 128.93 402.65 C129.52 399.00 129.46 399.09 129.84 396.43 C130.22 393.77 130.48 394.40 130.35 392.69 C130.23 390.99 130.22 390.26 129.37 390.04 C128.53 389.82 127.73 392.35 127.20 391.86 C126.67 391.38 126.83 390.03 127.41 388.21 C127.98 386.40 128.08 386.30 129.37 385.06 C130.65 383.82 131.16 384.71 132.23 383.56 C133.29 382.41 132.51 382.42 133.35 380.74 C134.19 379.06 134.30 378.89 135.38 377.26 C136.46 375.62 136.59 375.31 137.40 374.60 C138.20 373.89 137.60 373.89 138.40 374.60 Z" fill="url(#mouseg)"/>
<path d="M131.4 393.5 Q137.8 387.5 144.2 393.5" fill="none" stroke="#c2c2c2" stroke-width="1.2"/>
<path d="M134.8 396.9 Q137.8 399.9 140.8 396.9" fill="none" stroke="#d0d0d0" stroke-width="1"/>
<ellipse cx="138.3" cy="375.8" rx="1.5" ry="1.8" fill="#9a9a9a"/>
</g></g>
<g clip-path="url(#cell12)"><g filter="url(#mblur)">
<path d="M191.3 380.4 l8 0.5 l5 6 l-2 5 l-7 -1 z M193.3 396.4 l9 10 l-1.5 4 l-9 -9 z" fill="#030303" filter="url(#sblur)"/>
<path d="M186.80 377.40 C187.59 378.14 187.72 378.47 188.76 380.18 C189.80 381.90 189.91 382.07 190.71 383.84 C191.51 385.60 190.74 385.59 191.77 386.80 C192.81 388.00 193.34 387.06 194.60 388.36 C195.86 389.66 195.95 389.77 196.49 391.67 C197.03 393.57 197.15 394.99 196.62 395.50 C196.08 396.01 195.33 393.35 194.48 393.58 C193.63 393.81 193.81 394.58 193.44 396.37 C193.07 398.15 193.00 397.50 193.09 400.28 C193.17 403.06 193.32 402.98 193.77 406.81 C194.22 410.63 194.24 410.46 194.78 414.64 C195.31 418.81 195.51 418.99 195.78 422.47 C196.05 425.95 196.01 425.46 195.80 427.69 C195.59 429.91 195.24 429.57 195.00 430.82 C194.77 432.07 194.78 431.69 194.93 432.38 C195.09 433.08 195.34 432.69 195.58 433.43 C195.81 434.17 195.84 434.29 195.82 435.17 C195.80 436.05 195.79 436.36 195.51 436.73 C195.23 437.11 195.82 436.70 194.76 436.56 C193.70 436.42 192.91 436.82 191.54 436.21 C190.16 435.61 190.57 434.58 189.60 434.30 C188.63 434.02 188.55 434.15 187.90 435.17 C187.25 436.19 187.19 433.00 187.15 438.13 C187.11 443.25 188.18 450.06 187.75 454.40 C187.32 458.74 186.35 458.74 185.55 454.40 C184.75 450.06 185.35 443.25 184.75 438.13 C184.15 433.00 184.14 436.19 183.30 435.17 C182.46 434.15 182.57 434.02 181.60 434.30 C180.63 434.58 181.04 435.61 179.66 436.21 C178.29 436.82 177.50 436.42 176.44 436.56 C175.38 436.70 175.97 437.11 175.69 436.73 C175.41 436.36 175.40 436.05 175.38 435.17 C175.36 434.29 175.39 434.17 175.62 433.43 C175.86 432.69 176.11 433.08 176.27 432.38 C176.42 431.69 176.41 432.07 176.19 430.82 C175.98 429.57 175.61 429.91 175.45 427.69 C175.29 425.46 175.24 425.95 175.60 422.47 C175.97 418.99 176.17 418.81 176.82 414.64 C177.47 410.46 177.48 410.63 178.04 406.81 C178.59 402.98 178.73 403.06 178.89 400.28 C179.06 397.50 178.97 398.15 178.64 396.37 C178.32 394.58 178.52 393.81 177.68 393.58 C176.84 393.35 176.02 396.01 175.50 395.50 C174.97 394.99 175.13 393.57 175.72 391.67 C176.31 389.77 176.41 389.66 177.70 388.36 C179.00 387.06 179.50 388.00 180.57 386.80 C181.64 385.59 180.86 385.60 181.71 383.84 C182.56 382.07 182.67 381.90 183.76 380.18 C184.85 378.47 184.99 378.14 185.80 377.40 C186.61 376.66 186.01 376.66 186.80 377.40 Z" fill="url(#mouseg)"/>
<path d="M179.7 397.1 Q186.1 391.1 192.5 397.1" fill="none" stroke="#c2c2c2" stroke-width="1.2"/>
<path d="M183.1 400.5 Q186.1 403.5 189.1 400.5" fill="none" stroke="#d0d0d0" stroke-width="1"/>
<ellipse cx="186.7" cy="378.6" rx="1.5" ry="1.8" fill="#9a9a9a"/>
</g></g>
<g clip-path="url(#cell13)"><g filter="url(#mblur)">
<path d="M239.0 381.1 l8 0.5 l5 6 l-2 5 l-7 -1 z M241.0 397.1 l9 10 l-1.5 4 l-9 -9 z" fill="#030303" filter="url(#sblur)"/>
<path d="M234.50 378.10 C235.28 378.83 235.41 379.14 236.44 380.82 C237.48 382.50 237.58 382.67 238.37 384.39 C239.17 386.11 238.39 386.10 239.42 387.28 C240.45 388.46 240.98 387.54 242.23 388.81 C243.49 390.08 243.58 390.18 244.11 392.04 C244.63 393.90 244.75 395.28 244.21 395.78 C243.67 396.28 242.93 393.68 242.09 393.91 C241.24 394.14 241.37 394.88 241.03 396.63 C240.69 398.38 240.69 397.74 240.81 400.46 C240.93 403.18 241.03 403.09 241.47 406.83 C241.91 410.57 241.93 410.40 242.46 414.48 C242.99 418.56 243.19 418.73 243.45 422.13 C243.71 425.53 243.66 425.05 243.43 427.23 C243.21 429.41 242.78 429.07 242.61 430.29 C242.45 431.51 242.51 431.14 242.81 431.82 C243.12 432.50 243.42 432.11 243.76 432.84 C244.11 433.57 244.14 433.68 244.11 434.54 C244.09 435.40 244.08 435.71 243.66 436.07 C243.25 436.43 243.81 436.04 242.56 435.90 C241.32 435.76 240.48 436.15 239.00 435.56 C237.52 434.97 237.99 433.96 237.00 433.69 C236.01 433.42 235.83 433.54 235.30 434.54 C234.77 435.54 234.64 432.13 235.00 437.43 C235.36 442.73 236.80 449.87 236.65 454.40 C236.50 458.93 235.53 458.93 234.45 454.40 C233.37 449.87 233.60 442.73 232.60 437.43 C231.60 432.13 231.66 435.54 230.70 434.54 C229.74 433.54 229.99 433.42 229.00 433.69 C228.01 433.96 228.48 434.97 227.00 435.56 C225.52 436.15 224.68 435.76 223.44 435.90 C222.19 436.04 222.75 436.43 222.34 436.07 C221.92 435.71 221.91 435.40 221.89 434.54 C221.86 433.68 221.89 433.57 222.24 432.84 C222.58 432.11 222.88 432.50 223.19 431.82 C223.49 431.14 223.53 431.51 223.39 430.29 C223.24 429.07 222.78 429.41 222.63 427.23 C222.48 425.05 222.43 425.53 222.82 422.13 C223.21 418.73 223.42 418.56 224.11 414.48 C224.79 410.40 224.81 410.57 225.39 406.83 C225.98 403.09 226.08 403.18 226.30 400.46 C226.53 397.74 226.50 398.38 226.23 396.63 C225.96 394.88 226.12 394.14 225.29 393.91 C224.45 393.68 223.61 396.28 223.09 395.78 C222.57 395.28 222.74 393.90 223.34 392.04 C223.94 390.18 224.04 390.08 225.34 388.81 C226.64 387.54 227.14 388.46 228.22 387.28 C229.29 386.10 228.51 386.11 229.37 384.39 C230.23 382.67 230.34 382.50 231.44 380.82 C232.54 379.14 232.68 378.83 233.50 378.10 C234.31 377.37 233.71 377.37 234.50 378.10 Z" fill="url(#mouseg)"/>
<path d="M227.2 397.4 Q233.7 391.4 240.1 397.4" fill="none" stroke="#c2c2c2" stroke-width="1.2"/>
<path d="M230.7 400.8 Q233.7 403.8 236.7 400.8" fill="none" stroke="#d0d0d0" stroke-width="1"/>
<ellipse cx="234.4" cy="379.3" rx="1.5" ry="1.8" fill="#9a9a9a"/>
</g></g>
<g clip-path="url(#cell14)"><g filter="url(#mblur)">
<path d="M291.7 379.3 l8 0.5 l5 6 l-2 5 l-7 -1 z M293.7 395.3 l9 10 l-1.5 4 l-9 -9 z" fill="#030303" filter="url(#sblur)"/>
<path d="M287.19 376.30 C287.94 377.04 288.05 377.37 289.00 379.08 C289.94 380.80 290.04 380.97 290.74 382.74 C291.45 384.50 290.67 384.49 291.64 385.70 C292.61 386.90 293.19 385.96 294.38 387.26 C295.57 388.56 295.66 388.67 296.09 390.57 C296.52 392.47 296.56 393.89 296.00 394.40 C295.44 394.91 294.83 392.25 293.97 392.48 C293.11 392.71 293.04 393.48 292.78 395.27 C292.52 397.05 292.83 396.40 293.00 399.18 C293.16 401.97 293.11 401.88 293.40 405.71 C293.69 409.53 293.72 409.36 294.10 413.54 C294.47 417.71 294.68 417.89 294.79 421.37 C294.90 424.85 294.86 424.36 294.53 426.59 C294.19 428.81 293.31 428.47 293.55 429.72 C293.79 430.97 294.18 430.59 295.42 431.28 C296.66 431.98 297.18 431.59 298.19 432.33 C299.20 433.07 299.29 433.19 299.21 434.07 C299.14 434.95 299.11 435.26 297.90 435.63 C296.69 436.01 296.93 435.60 294.69 435.46 C292.44 435.32 291.51 435.72 289.48 435.11 C287.46 434.51 288.19 433.48 287.10 433.20 C286.01 432.92 285.81 433.05 285.40 434.07 C284.99 435.09 284.79 431.60 285.55 437.03 C286.31 442.45 288.12 449.77 288.25 454.40 C288.38 459.03 287.41 459.03 286.05 454.40 C284.69 449.77 284.55 442.45 283.15 437.03 C281.75 431.60 281.88 435.09 280.80 434.07 C279.72 433.05 280.19 432.92 279.10 433.20 C278.01 433.48 278.74 434.51 276.72 435.11 C274.69 435.72 273.76 435.32 271.51 435.46 C269.27 435.60 269.51 436.01 268.30 435.63 C267.09 435.26 267.06 434.95 266.99 434.07 C266.91 433.19 267.00 433.07 268.01 432.33 C269.02 431.59 269.54 431.98 270.78 431.28 C272.02 430.59 272.35 430.97 272.65 429.72 C272.95 428.47 271.99 428.81 271.92 426.59 C271.84 424.36 271.78 424.85 272.37 421.37 C272.96 417.89 273.20 417.71 274.14 413.54 C275.09 409.36 275.10 409.53 275.92 405.71 C276.74 401.88 276.68 401.97 277.23 399.18 C277.77 396.40 277.99 397.05 277.98 395.27 C277.97 393.48 278.00 392.71 277.17 392.48 C276.35 392.25 275.37 394.91 274.88 394.40 C274.39 393.89 274.63 392.47 275.32 390.57 C276.01 388.67 276.12 388.56 277.48 387.26 C278.85 385.96 279.30 386.90 280.44 385.70 C281.58 384.49 280.80 384.50 281.74 382.74 C282.69 380.97 282.81 380.80 284.00 379.08 C285.18 377.37 285.34 377.04 286.19 376.30 C287.04 375.56 286.44 375.56 287.19 376.30 Z" fill="url(#mouseg)"/>
<path d="M279.0 396.0 Q285.4 390.0 291.8 396.0" fill="none" stroke="#c2c2c2" stroke-width="1.2"/>
<path d="M282.4 399.4 Q285.4 402.4 288.4 399.4" fill="none" stroke="#d0d0d0" stroke-width="1"/>
<ellipse cx="287.1" cy="377.5" rx="1.5" ry="1.8" fill="#9a9a9a"/>
</g></g>
<g clip-path="url(#cell20)"><g filter="url(#mblur)">
<path d="M93.7 465.4 l8 0.5 l5 6 l-2 5 l-7 -1 z M95.7 481.4 l9 10 l-1.5 4 l-9 -9 z" fill="#030303" filter="url(#sblur)"/>
<path d="M89.20 462.42 C90.00 463.10 90.13 463.39 91.20 464.95 C92.27 466.51 92.37 466.67 93.20 468.27 C94.03 469.87 93.25 469.86 94.30 470.95 C95.35 472.05 95.87 471.20 97.15 472.38 C98.42 473.56 98.52 473.65 99.08 475.38 C99.65 477.11 99.79 478.39 99.26 478.85 C98.73 479.32 97.94 476.91 97.10 477.12 C96.26 477.33 96.24 478.02 96.10 479.64 C95.96 481.27 96.23 480.67 96.59 483.20 C96.94 485.73 96.88 485.65 97.44 489.12 C98.00 492.60 98.02 492.44 98.67 496.23 C99.33 500.03 99.56 500.18 99.91 503.34 C100.26 506.50 100.21 506.06 100.00 508.08 C99.80 510.11 98.54 509.79 99.15 510.93 C99.76 512.07 100.35 511.72 102.28 512.35 C104.21 512.98 104.88 512.62 106.38 513.30 C107.88 513.97 108.01 514.08 107.89 514.88 C107.78 515.68 107.74 515.96 105.95 516.30 C104.16 516.64 104.02 516.27 101.20 516.14 C98.38 516.02 97.63 516.37 95.36 515.83 C93.10 515.28 93.86 514.34 92.70 514.09 C91.54 513.84 91.67 513.95 91.00 514.88 C90.33 515.81 90.28 509.80 90.19 517.56 C90.10 525.33 91.11 536.94 90.65 543.99 C90.19 551.04 89.21 551.04 88.45 543.99 C87.69 536.94 88.34 525.33 87.79 517.56 C87.24 509.80 87.22 515.81 86.40 514.88 C85.58 513.95 85.86 513.84 84.70 514.09 C83.54 514.34 84.30 515.28 82.04 515.83 C79.77 516.37 79.02 516.02 76.20 516.14 C73.38 516.27 73.24 516.64 71.45 516.30 C69.66 515.96 69.62 515.68 69.51 514.88 C69.39 514.08 69.52 513.97 71.02 513.30 C72.52 512.62 73.19 512.98 75.12 512.35 C77.05 511.72 77.64 512.07 78.25 510.93 C78.86 509.79 77.60 510.11 77.40 508.08 C77.19 506.06 77.14 506.50 77.49 503.34 C77.84 500.18 78.07 500.03 78.73 496.23 C79.38 492.44 79.40 492.60 79.96 489.12 C80.52 485.65 80.46 485.73 80.81 483.20 C81.17 480.67 81.44 481.27 81.30 479.64 C81.16 478.02 81.14 477.33 80.30 477.12 C79.46 476.91 78.67 479.32 78.14 478.85 C77.61 478.39 77.75 477.11 78.32 475.38 C78.88 473.65 78.98 473.56 80.25 472.38 C81.53 471.20 82.05 472.05 83.10 470.95 C84.15 469.86 83.37 469.87 84.20 468.27 C85.03 466.67 85.13 466.51 86.20 464.95 C87.27 463.39 87.40 463.10 88.20 462.42 C89.00 461.75 88.40 461.75 89.20 462.42 Z" fill="url(#mouseg)"/>
<path d="M82.3 480.5 Q88.7 474.5 95.1 480.5" fill="none" stroke="#c2c2c2" stroke-width="1.2"/>
<path d="M85.7 483.9 Q88.7 486.9 91.7 483.9" fill="none" stroke="#d0d0d0" stroke-width="1"/>
<ellipse cx="89.1" cy="463.6" rx="1.5" ry="1.8" fill="#9a9a9a"/>
</g></g>
<g clip-path="url(#cell21)"><g filter="url(#mblur)">
<path d="M142.9 464.4 l8 0.5 l5 6 l-2 5 l-7 -1 z M144.9 480.4 l9 10 l-1.5 4 l-9 -9 z" fill="#030303" filter="url(#sblur)"/>
<path d="M138.40 461.44 C139.22 462.05 139.36 462.32 140.46 463.74 C141.56 465.16 141.67 465.31 142.53 466.77 C143.39 468.23 142.61 468.22 143.68 469.22 C144.76 470.22 145.26 469.44 146.56 470.52 C147.86 471.59 147.96 471.68 148.56 473.26 C149.16 474.83 149.33 476.01 148.81 476.43 C148.29 476.85 147.45 474.65 146.61 474.84 C145.78 475.04 145.52 475.67 145.67 477.15 C145.82 478.63 146.48 478.09 147.17 480.39 C147.86 482.70 147.56 482.63 148.26 485.80 C148.95 488.97 148.97 488.83 149.79 492.29 C150.61 495.75 150.86 495.89 151.32 498.78 C151.79 501.66 151.72 501.26 151.53 503.10 C151.34 504.95 150.69 504.66 150.60 505.70 C150.51 506.73 150.63 506.42 151.19 506.99 C151.76 507.57 152.16 507.24 152.71 507.86 C153.27 508.47 153.32 508.57 153.27 509.30 C153.23 510.03 153.21 510.29 152.55 510.60 C151.89 510.91 152.80 510.57 150.79 510.45 C148.78 510.34 147.12 510.67 145.02 510.17 C142.92 509.67 143.92 508.81 142.90 508.58 C141.88 508.35 142.05 508.46 141.20 509.30 C140.35 510.15 140.41 502.50 139.70 511.75 C138.99 521.00 139.44 535.39 138.55 543.99 C137.66 552.59 136.68 552.59 136.35 543.99 C136.02 535.39 137.23 521.00 137.30 511.75 C137.37 502.50 137.24 510.15 136.60 509.30 C135.96 508.46 135.92 508.35 134.90 508.58 C133.88 508.81 134.88 509.67 132.78 510.17 C130.68 510.67 129.02 510.34 127.01 510.45 C125.00 510.57 125.91 510.91 125.25 510.60 C124.59 510.29 124.57 510.03 124.53 509.30 C124.48 508.57 124.53 508.47 125.09 507.86 C125.64 507.24 126.04 507.57 126.61 506.99 C127.17 506.42 127.30 506.73 127.20 505.70 C127.09 504.66 126.47 504.95 126.21 503.10 C125.94 501.26 125.88 501.66 126.21 498.78 C126.54 495.89 126.79 495.75 127.44 492.29 C128.10 488.83 128.13 488.97 128.68 485.80 C129.23 482.63 128.93 482.70 129.51 480.39 C130.09 478.09 130.79 478.63 130.87 477.15 C130.95 475.67 130.66 475.04 129.81 474.84 C128.97 474.65 128.23 476.85 127.69 476.43 C127.15 476.01 127.27 474.83 127.79 473.26 C128.32 471.68 128.41 471.59 129.67 470.52 C130.92 469.44 131.45 470.22 132.48 469.22 C133.51 468.22 132.73 468.23 133.53 466.77 C134.32 465.31 134.42 465.16 135.46 463.74 C136.49 462.32 136.62 462.05 137.40 461.44 C138.19 460.82 137.59 460.82 138.40 461.44 Z" fill="url(#mouseg)"/>
<path d="M131.8 478.0 Q138.2 472.0 144.7 478.0" fill="none" stroke="#c2c2c2" stroke-width="1.2"/>
<path d="M135.2 481.4 Q138.2 484.4 141.2 481.4" fill="none" stroke="#d0d0d0" stroke-width="1"/>
<ellipse cx="138.3" cy="462.6" rx="1.5" ry="1.8" fill="#9a9a9a"/>
</g></g>
<g clip-path="url(#cell22)"><g filter="url(#mblur)">
<path d="M189.5 468.9 l8 0.5 l5 6 l-2 5 l-7 -1 z M191.5 484.9 l9 10 l-1.5 4 l-9 -9 z" fill="#030303" filter="url(#sblur)"/>
<path d="M185.01 465.88 C185.86 466.51 186.02 466.79 187.20 468.25 C188.39 469.71 188.51 469.86 189.46 471.36 C190.40 472.86 189.62 472.85 190.76 473.88 C191.90 474.90 192.35 474.10 193.72 475.21 C195.08 476.32 195.19 476.41 195.88 478.03 C196.57 479.64 196.81 480.85 196.32 481.28 C195.83 481.72 194.85 479.46 194.03 479.65 C193.20 479.85 193.34 480.50 193.22 482.02 C193.10 483.55 193.15 482.99 193.58 485.36 C194.01 487.73 194.05 487.65 194.84 490.91 C195.64 494.17 195.64 494.02 196.56 497.58 C197.47 501.13 197.69 501.28 198.27 504.24 C198.85 507.21 198.78 506.79 198.72 508.69 C198.66 510.58 198.31 510.29 198.03 511.35 C197.75 512.42 197.66 512.09 197.67 512.69 C197.67 513.28 197.91 512.94 198.05 513.58 C198.18 514.21 198.20 514.31 198.19 515.06 C198.17 515.81 198.17 516.07 198.01 516.39 C197.84 516.71 198.64 516.36 197.57 516.24 C196.49 516.12 195.44 516.46 193.98 515.95 C192.52 515.43 193.05 514.55 192.10 514.32 C191.15 514.08 191.13 514.19 190.40 515.06 C189.67 515.93 189.66 511.65 189.35 517.57 C189.04 523.50 189.86 532.02 189.25 537.28 C188.64 542.53 187.66 542.53 187.05 537.28 C186.44 532.02 187.28 523.50 186.95 517.57 C186.62 511.65 186.56 515.93 185.80 515.06 C185.04 514.19 185.05 514.08 184.10 514.32 C183.15 514.55 183.68 515.43 182.22 515.95 C180.76 516.46 179.71 516.12 178.63 516.24 C177.56 516.36 178.36 516.71 178.19 516.39 C178.03 516.07 178.03 515.81 178.01 515.06 C178.00 514.31 178.02 514.21 178.15 513.58 C178.29 512.94 178.53 513.28 178.53 512.69 C178.54 512.09 178.52 512.42 178.17 511.35 C177.83 510.29 177.56 510.58 177.24 508.69 C176.92 506.79 176.87 507.21 176.97 504.24 C177.07 501.28 177.27 501.13 177.60 497.58 C177.94 494.02 177.97 494.17 178.24 490.91 C178.50 487.65 178.55 487.73 178.60 485.36 C178.65 482.99 178.79 483.55 178.42 482.02 C178.05 480.50 178.09 479.85 177.23 479.65 C176.37 479.46 175.76 481.72 175.20 481.28 C174.64 480.85 174.68 479.64 175.11 478.03 C175.54 476.41 175.63 476.32 176.82 475.21 C178.01 474.10 178.59 474.90 179.56 473.88 C180.53 472.85 179.75 472.86 180.46 471.36 C181.16 469.86 181.26 469.71 182.20 468.25 C183.15 466.79 183.26 466.51 184.01 465.88 C184.76 465.25 184.16 465.25 185.01 465.88 Z" fill="url(#mouseg)"/>
<path d="M179.4 482.9 Q185.8 476.9 192.2 482.9" fill="none" stroke="#c2c2c2" stroke-width="1.2"/>
<path d="M182.8 486.3 Q185.8 489.3 188.8 486.3" fill="none" stroke="#d0d0d0" stroke-width="1"/>
<ellipse cx="184.9" cy="467.1" rx="1.5" ry="1.8" fill="#9a9a9a"/>
</g></g>
<g clip-path="url(#cell23)"><g filter="url(#mblur)">
<path d="M237.8 470.0 l8 0.5 l5 6 l-2 5 l-7 -1 z M239.8 486.0 l9 10 l-1.5 4 l-9 -9 z" fill="#030303" filter="url(#sblur)"/>
<path d="M233.31 466.97 C234.16 467.72 234.32 468.06 235.50 469.81 C236.69 471.56 236.81 471.74 237.76 473.54 C238.70 475.34 237.92 475.33 239.06 476.56 C240.20 477.80 240.65 476.84 242.02 478.16 C243.38 479.49 243.49 479.60 244.18 481.54 C244.87 483.48 245.11 484.93 244.62 485.45 C244.13 485.97 243.15 483.26 242.33 483.50 C241.50 483.73 241.64 484.51 241.52 486.34 C241.40 488.16 241.45 487.50 241.88 490.34 C242.31 493.18 242.35 493.09 243.14 497.00 C243.94 500.92 243.94 500.74 244.86 505.00 C245.77 509.27 245.99 509.45 246.57 513.00 C247.15 516.56 247.08 516.06 247.02 518.33 C246.96 520.61 246.37 520.25 246.33 521.53 C246.29 522.81 246.37 522.42 246.87 523.13 C247.36 523.85 247.71 523.44 248.20 524.20 C248.68 524.96 248.72 525.08 248.69 525.98 C248.65 526.88 248.63 527.20 248.06 527.58 C247.48 527.96 248.00 527.54 246.52 527.40 C245.03 527.26 244.11 527.66 242.48 527.04 C240.85 526.43 241.41 525.37 240.40 525.09 C239.39 524.80 239.51 524.94 238.70 525.98 C237.89 527.02 237.92 525.20 237.35 529.00 C236.78 532.80 237.35 537.24 236.55 540.24 C235.75 543.23 234.78 543.23 234.35 540.24 C233.92 537.24 235.02 532.80 234.95 529.00 C234.88 525.20 234.78 527.02 234.10 525.98 C233.42 524.94 233.41 524.80 232.40 525.09 C231.39 525.37 231.95 526.43 230.32 527.04 C228.69 527.66 227.77 527.26 226.28 527.40 C224.80 527.54 225.32 527.96 224.74 527.58 C224.17 527.20 224.15 526.88 224.11 525.98 C224.08 525.08 224.12 524.96 224.60 524.20 C225.09 523.44 225.44 523.85 225.93 523.13 C226.43 522.42 226.58 522.81 226.47 521.53 C226.37 520.25 225.86 520.61 225.54 518.33 C225.22 516.06 225.17 516.56 225.27 513.00 C225.37 509.45 225.57 509.27 225.90 505.00 C226.24 500.74 226.27 500.92 226.54 497.00 C226.80 493.09 226.85 493.18 226.90 490.34 C226.95 487.50 227.09 488.16 226.72 486.34 C226.35 484.51 226.39 483.73 225.53 483.50 C224.67 483.26 224.06 485.97 223.50 485.45 C222.94 484.93 222.98 483.48 223.41 481.54 C223.84 479.60 223.93 479.49 225.12 478.16 C226.31 476.84 226.89 477.80 227.86 476.56 C228.83 475.33 228.05 475.34 228.76 473.54 C229.46 471.74 229.56 471.56 230.50 469.81 C231.45 468.06 231.56 467.72 232.31 466.97 C233.06 466.21 232.46 466.21 233.31 466.97 Z" fill="url(#mouseg)"/>
<path d="M227.7 487.1 Q234.1 481.1 240.5 487.1" fill="none" stroke="#c2c2c2" stroke-width="1.2"/>
<path d="M231.1 490.5 Q234.1 493.5 237.1 490.5" fill="none" stroke="#d0d0d0" stroke-width="1"/>
<ellipse cx="233.2" cy="468.2" rx="1.5" ry="1.8" fill="#9a9a9a"/>
</g></g>
<g clip-path="url(#cell24)"><g filter="url(#mblur)">
<path d="M288.8 468.9 l8 0.5 l5 6 l-2 5 l-7 -1 z M290.8 484.9 l9 10 l-1.5 4 l-9 -9 z" fill="#030303" filter="url(#sblur)"/>
<path d="M284.30 465.88 C285.10 466.58 285.23 466.88 286.30 468.50 C287.37 470.12 287.47 470.28 288.30 471.94 C289.13 473.61 288.35 473.59 289.40 474.73 C290.45 475.87 290.97 474.98 292.25 476.21 C293.52 477.43 293.62 477.53 294.18 479.32 C294.75 481.11 294.89 482.45 294.36 482.93 C293.83 483.41 293.04 480.91 292.20 481.12 C291.36 481.34 291.34 482.06 291.20 483.75 C291.06 485.43 291.33 484.81 291.69 487.43 C292.04 490.06 291.98 489.98 292.54 493.58 C293.10 497.19 293.12 497.02 293.78 500.96 C294.43 504.89 294.66 505.06 295.01 508.34 C295.36 511.61 295.31 511.15 295.11 513.25 C294.90 515.35 293.77 515.02 294.25 516.20 C294.73 517.38 295.24 517.02 296.91 517.68 C298.58 518.33 299.20 517.96 300.52 518.66 C301.84 519.36 301.95 519.47 301.85 520.30 C301.75 521.13 301.71 521.43 300.14 521.78 C298.57 522.13 298.57 521.74 295.96 521.61 C293.35 521.48 292.54 521.85 290.36 521.29 C288.18 520.72 288.94 519.74 287.80 519.48 C286.66 519.22 286.71 519.34 286.10 520.30 C285.49 521.26 285.41 516.77 285.50 523.09 C285.59 529.41 286.78 538.42 286.45 543.99 C286.12 549.56 285.14 549.56 284.25 543.99 C283.36 538.42 283.83 529.41 283.10 523.09 C282.37 516.77 282.38 521.26 281.50 520.30 C280.62 519.34 280.94 519.22 279.80 519.48 C278.66 519.74 279.42 520.72 277.24 521.29 C275.06 521.85 274.25 521.48 271.64 521.61 C269.03 521.74 269.03 522.13 267.46 521.78 C265.89 521.43 265.85 521.13 265.75 520.30 C265.65 519.47 265.76 519.36 267.08 518.66 C268.40 517.96 269.02 518.33 270.69 517.68 C272.36 517.02 272.87 517.38 273.35 516.20 C273.83 515.02 272.70 515.35 272.50 513.25 C272.29 511.15 272.24 511.61 272.59 508.34 C272.94 505.06 273.17 504.89 273.82 500.96 C274.48 497.02 274.50 497.19 275.06 493.58 C275.62 489.98 275.56 490.06 275.92 487.43 C276.27 484.81 276.54 485.43 276.40 483.75 C276.26 482.06 276.24 481.34 275.40 481.12 C274.56 480.91 273.77 483.41 273.24 482.93 C272.71 482.45 272.85 481.11 273.42 479.32 C273.98 477.53 274.08 477.43 275.35 476.21 C276.63 474.98 277.15 475.87 278.20 474.73 C279.25 473.59 278.47 473.61 279.30 471.94 C280.13 470.28 280.23 470.12 281.30 468.50 C282.37 466.88 282.50 466.58 283.30 465.88 C284.10 465.18 283.50 465.18 284.30 465.88 Z" fill="url(#mouseg)"/>
<path d="M277.4 484.5 Q283.8 478.5 290.2 484.5" fill="none" stroke="#c2c2c2" stroke-width="1.2"/>
<path d="M280.8 487.9 Q283.8 490.9 286.8 487.9" fill="none" stroke="#d0d0d0" stroke-width="1"/>
<ellipse cx="284.2" cy="467.1" rx="1.5" ry="1.8" fill="#9a9a9a"/>
</g></g>
<g clip-path="url(#cell30)"><g filter="url(#mblur)">
<path d="M95.1 556.2 l8 0.5 l5 6 l-2 5 l-7 -1 z M97.1 572.2 l9 10 l-1.5 4 l-9 -9 z" fill="#030303" filter="url(#sblur)"/>
<path d="M90.60 553.23 C91.38 553.93 91.50 554.23 92.52 555.83 C93.54 557.44 93.64 557.60 94.42 559.25 C95.20 560.89 94.42 560.88 95.44 562.01 C96.46 563.14 97.01 562.26 98.25 563.47 C99.49 564.69 99.58 564.78 100.10 566.56 C100.61 568.34 100.71 569.66 100.17 570.14 C99.63 570.61 98.91 568.13 98.06 568.35 C97.21 568.56 97.28 569.28 96.99 570.95 C96.70 572.62 96.81 572.00 96.97 574.60 C97.14 577.20 97.18 577.12 97.61 580.70 C98.04 584.27 98.06 584.11 98.57 588.01 C99.09 591.91 99.29 592.07 99.54 595.32 C99.78 598.57 99.73 598.12 99.49 600.20 C99.24 602.28 98.24 601.95 98.63 603.12 C99.01 604.29 99.46 603.94 100.93 604.59 C102.39 605.24 102.96 604.87 104.12 605.56 C105.29 606.26 105.39 606.36 105.30 607.19 C105.21 608.01 105.17 608.30 103.79 608.65 C102.40 609.00 102.39 608.62 100.09 608.49 C97.79 608.36 97.14 608.73 95.17 608.16 C93.20 607.60 93.81 606.64 92.70 606.38 C91.59 606.12 91.73 606.23 91.00 607.19 C90.27 608.14 90.26 602.78 89.95 609.95 C89.64 617.12 90.46 627.65 89.85 634.09 C89.24 640.53 88.26 640.53 87.65 634.09 C87.04 627.65 87.88 617.12 87.55 609.95 C87.22 602.78 87.16 608.14 86.40 607.19 C85.64 606.23 85.81 606.12 84.70 606.38 C83.59 606.64 84.20 607.60 82.23 608.16 C80.26 608.73 79.61 608.36 77.31 608.49 C75.01 608.62 75.00 609.00 73.61 608.65 C72.23 608.30 72.19 608.01 72.10 607.19 C72.01 606.36 72.11 606.26 73.28 605.56 C74.44 604.87 75.01 605.24 76.47 604.59 C77.94 603.94 78.36 604.29 78.77 603.12 C79.18 601.95 78.15 602.28 78.01 600.20 C77.86 598.12 77.81 598.57 78.24 595.32 C78.67 592.07 78.88 591.91 79.62 588.01 C80.36 584.11 80.37 584.27 81.00 580.70 C81.64 577.12 81.68 577.20 81.99 574.60 C82.31 572.00 82.38 572.62 82.19 570.95 C81.99 569.28 82.10 568.56 81.26 568.35 C80.42 568.13 79.57 570.61 79.05 570.14 C78.53 569.66 78.71 568.34 79.33 566.56 C79.94 564.78 80.04 564.69 81.35 563.47 C82.66 562.26 83.16 563.14 84.24 562.01 C85.33 560.88 84.55 560.89 85.42 559.25 C86.30 557.60 86.41 557.44 87.52 555.83 C88.63 554.23 88.78 553.93 89.60 553.23 C90.42 552.54 89.82 552.54 90.60 553.23 Z" fill="url(#mouseg)"/>
<path d="M83.2 571.7 Q89.6 565.7 96.0 571.7" fill="none" stroke="#c2c2c2" stroke-width="1.2"/>
<path d="M86.6 575.1 Q89.6 578.1 92.6 575.1" fill="none" stroke="#d0d0d0" stroke-width="1"/>
<ellipse cx="90.5" cy="554.4" rx="1.5" ry="1.8" fill="#9a9a9a"/>
</g></g>
<g clip-path="url(#cell31)"><g filter="url(#mblur)">
<path d="M146.5 558.2 l8 0.5 l5 6 l-2 5 l-7 -1 z M148.5 574.2 l9 10 l-1.5 4 l-9 -9 z" fill="#030303" filter="url(#sblur)"/>
<path d="M141.99 555.22 C142.74 555.95 142.85 556.27 143.80 557.98 C144.74 559.68 144.84 559.85 145.54 561.60 C146.25 563.34 145.47 563.33 146.44 564.53 C147.41 565.72 147.99 564.79 149.18 566.08 C150.37 567.37 150.46 567.47 150.89 569.35 C151.32 571.24 151.36 572.64 150.80 573.15 C150.24 573.65 149.63 571.02 148.77 571.25 C147.91 571.48 147.74 572.24 147.58 574.01 C147.42 575.78 147.91 575.13 148.19 577.89 C148.47 580.65 148.32 580.56 148.64 584.36 C148.96 588.15 148.99 587.98 149.39 592.11 C149.80 596.25 150.02 596.42 150.15 599.87 C150.28 603.32 150.23 602.84 149.89 605.05 C149.55 607.25 148.68 606.91 148.87 608.15 C149.06 609.39 149.43 609.01 150.59 609.70 C151.76 610.39 152.28 610.00 153.25 610.74 C154.23 611.47 154.31 611.59 154.23 612.46 C154.16 613.33 154.13 613.64 152.97 614.01 C151.82 614.38 152.22 613.98 149.89 613.84 C147.57 613.70 146.39 614.09 144.26 613.49 C142.13 612.90 142.98 611.87 141.90 611.60 C140.82 611.32 140.69 611.45 140.20 612.46 C139.71 613.47 139.56 609.62 140.05 615.39 C140.54 621.16 142.10 629.11 142.05 634.09 C142.00 639.08 141.02 639.08 139.85 634.09 C138.68 629.11 138.78 621.16 137.65 615.39 C136.52 609.62 136.60 613.47 135.60 612.46 C134.60 611.45 134.98 611.32 133.90 611.60 C132.82 611.87 133.67 612.90 131.54 613.49 C129.41 614.09 128.23 613.70 125.91 613.84 C123.58 613.98 123.98 614.38 122.83 614.01 C121.67 613.64 121.64 613.33 121.57 612.46 C121.49 611.59 121.57 611.47 122.55 610.74 C123.52 610.00 124.04 610.39 125.21 609.70 C126.37 609.01 126.68 609.39 126.93 608.15 C127.18 606.91 126.23 607.25 126.15 605.05 C126.06 602.84 126.00 603.32 126.61 599.87 C127.22 596.42 127.47 596.25 128.45 592.11 C129.43 587.98 129.43 588.15 130.28 584.36 C131.13 580.56 130.96 580.65 131.63 577.89 C132.30 575.13 132.69 575.78 132.78 574.01 C132.87 572.24 132.80 571.48 131.97 571.25 C131.15 571.02 130.17 573.65 129.68 573.15 C129.19 572.64 129.43 571.24 130.12 569.35 C130.81 567.47 130.92 567.37 132.28 566.08 C133.65 564.79 134.10 565.72 135.24 564.53 C136.38 563.33 135.60 563.34 136.54 561.60 C137.49 559.85 137.61 559.68 138.80 557.98 C139.98 556.27 140.14 555.95 140.99 555.22 C141.84 554.48 141.24 554.48 141.99 555.22 Z" fill="url(#mouseg)"/>
<path d="M133.8 574.7 Q140.2 568.7 146.6 574.7" fill="none" stroke="#c2c2c2" stroke-width="1.2"/>
<path d="M137.2 578.1 Q140.2 581.1 143.2 578.1" fill="none" stroke="#d0d0d0" stroke-width="1"/>
<ellipse cx="141.9" cy="556.4" rx="1.5" ry="1.8" fill="#9a9a9a"/>
</g></g>
<g clip-path="url(#cell32)"><g filter="url(#mblur)">
<path d="M194.2 558.2 l8 0.5 l5 6 l-2 5 l-7 -1 z M196.2 574.2 l9 10 l-1.5 4 l-9 -9 z" fill="#030303" filter="url(#sblur)"/>
<path d="M189.70 555.22 C190.48 555.95 190.61 556.27 191.64 557.98 C192.67 559.68 192.77 559.85 193.56 561.60 C194.35 563.34 193.57 563.33 194.60 564.53 C195.63 565.72 196.16 564.79 197.41 566.08 C198.66 567.37 198.76 567.47 199.28 569.35 C199.80 571.24 199.91 572.64 199.38 573.15 C198.84 573.65 198.10 571.02 197.26 571.25 C196.41 571.48 196.48 572.24 196.20 574.01 C195.92 575.78 196.02 575.13 196.20 577.89 C196.39 580.65 196.43 580.56 196.88 584.36 C197.33 588.15 197.35 587.98 197.89 592.11 C198.43 596.25 198.63 596.42 198.90 599.87 C199.16 603.32 199.11 602.84 198.88 605.05 C198.64 607.25 198.00 606.91 198.03 608.15 C198.06 609.39 198.26 609.01 199.00 609.70 C199.73 610.39 200.13 610.00 200.78 610.74 C201.44 611.47 201.49 611.59 201.44 612.46 C201.39 613.33 201.37 613.64 200.60 614.01 C199.82 614.38 200.21 613.98 198.53 613.84 C196.84 613.70 195.99 614.09 194.28 613.49 C192.56 612.90 193.13 611.87 192.10 611.60 C191.07 611.32 191.13 611.45 190.40 612.46 C189.67 613.47 189.66 609.62 189.35 615.39 C189.04 621.16 189.86 629.11 189.25 634.09 C188.64 639.08 187.66 639.08 187.05 634.09 C186.44 629.11 187.28 621.16 186.95 615.39 C186.62 609.62 186.56 613.47 185.80 612.46 C185.04 611.45 185.13 611.32 184.10 611.60 C183.07 611.87 183.64 612.90 181.92 613.49 C180.21 614.09 179.36 613.70 177.67 613.84 C175.99 613.98 176.38 614.38 175.60 614.01 C174.83 613.64 174.81 613.33 174.76 612.46 C174.71 611.59 174.76 611.47 175.42 610.74 C176.07 610.00 176.47 610.39 177.20 609.70 C177.94 609.01 178.12 609.39 178.17 608.15 C178.22 606.91 177.55 607.25 177.40 605.05 C177.24 602.84 177.19 603.32 177.60 599.87 C178.01 596.42 178.22 596.25 178.94 592.11 C179.65 587.98 179.66 588.15 180.27 584.36 C180.88 580.56 180.92 580.65 181.22 577.89 C181.52 575.13 181.60 575.78 181.40 574.01 C181.19 572.24 181.29 571.48 180.46 571.25 C179.62 571.02 178.77 573.65 178.25 573.15 C177.74 572.64 177.91 571.24 178.51 569.35 C179.11 567.47 179.21 567.37 180.52 566.08 C181.82 564.79 182.32 565.72 183.40 564.53 C184.48 563.33 183.70 563.34 184.56 561.60 C185.42 559.85 185.53 559.68 186.64 557.98 C187.74 556.27 187.88 555.95 188.70 555.22 C189.51 554.48 188.91 554.48 189.70 555.22 Z" fill="url(#mouseg)"/>
<path d="M182.4 574.7 Q188.8 568.7 195.2 574.7" fill="none" stroke="#c2c2c2" stroke-width="1.2"/>
<path d="M185.8 578.1 Q188.8 581.1 191.8 578.1" fill="none" stroke="#d0d0d0" stroke-width="1"/>
<ellipse cx="189.6" cy="556.4" rx="1.5" ry="1.8" fill="#9a9a9a"/>
</g></g>
<g clip-path="url(#cell33)"><g filter="url(#mblur)">
<path d="M242.2 558.7 l8 0.5 l5 6 l-2 5 l-7 -1 z M244.2 574.7 l9 10 l-1.5 4 l-9 -9 z" fill="#030303" filter="url(#sblur)"/>
<path d="M237.70 555.71 C238.50 556.43 238.63 556.75 239.70 558.41 C240.77 560.07 240.87 560.24 241.70 561.94 C242.53 563.65 241.75 563.64 242.80 564.81 C243.85 565.98 244.37 565.07 245.65 566.32 C246.92 567.58 247.02 567.68 247.58 569.53 C248.15 571.37 248.29 572.74 247.76 573.23 C247.23 573.73 246.44 571.15 245.60 571.38 C244.76 571.60 244.74 572.34 244.60 574.07 C244.46 575.80 244.73 575.17 245.08 577.86 C245.44 580.56 245.38 580.47 245.94 584.18 C246.50 587.89 246.52 587.72 247.17 591.76 C247.83 595.80 248.06 595.97 248.41 599.34 C248.76 602.71 248.71 602.24 248.50 604.40 C248.30 606.55 247.74 606.21 247.65 607.43 C247.56 608.64 247.66 608.27 248.15 608.94 C248.64 609.62 248.99 609.24 249.48 609.95 C249.97 610.67 250.01 610.79 249.97 611.64 C249.93 612.49 249.92 612.80 249.34 613.15 C248.76 613.51 249.42 613.12 247.80 612.99 C246.18 612.85 245.04 613.23 243.28 612.65 C241.52 612.07 242.21 611.07 241.20 610.80 C240.19 610.53 240.23 610.65 239.50 611.64 C238.77 612.63 238.76 608.51 238.45 614.50 C238.14 620.49 238.96 628.87 238.35 634.09 C237.74 639.32 236.76 639.32 236.15 634.09 C235.54 628.87 236.38 620.49 236.05 614.50 C235.72 608.51 235.66 612.63 234.90 611.64 C234.14 610.65 234.21 610.53 233.20 610.80 C232.19 611.07 232.88 612.07 231.12 612.65 C229.36 613.23 228.22 612.85 226.60 612.99 C224.98 613.12 225.64 613.51 225.06 613.15 C224.48 612.80 224.47 612.49 224.43 611.64 C224.39 610.79 224.43 610.67 224.92 609.95 C225.41 609.24 225.76 609.62 226.25 608.94 C226.74 608.27 226.84 608.64 226.75 607.43 C226.66 606.21 226.10 606.55 225.89 604.40 C225.69 602.24 225.64 602.71 225.99 599.34 C226.34 595.97 226.57 595.80 227.22 591.76 C227.88 587.72 227.90 587.89 228.46 584.18 C229.02 580.47 228.96 580.56 229.31 577.86 C229.67 575.17 229.94 575.80 229.80 574.07 C229.66 572.34 229.64 571.60 228.80 571.38 C227.96 571.15 227.17 573.73 226.64 573.23 C226.11 572.74 226.25 571.37 226.82 569.53 C227.38 567.68 227.48 567.58 228.75 566.32 C230.03 565.07 230.55 565.98 231.60 564.81 C232.65 563.64 231.87 563.65 232.70 561.94 C233.53 560.24 233.63 560.07 234.70 558.41 C235.77 556.75 235.90 556.43 236.70 555.71 C237.50 554.99 236.90 554.99 237.70 555.71 Z" fill="url(#mouseg)"/>
<path d="M230.8 574.8 Q237.2 568.8 243.6 574.8" fill="none" stroke="#c2c2c2" stroke-width="1.2"/>
<path d="M234.2 578.2 Q237.2 581.2 240.2 578.2" fill="none" stroke="#d0d0d0" stroke-width="1"/>
<ellipse cx="237.6" cy="556.9" rx="1.5" ry="1.8" fill="#9a9a9a"/>
</g></g>
<g clip-path="url(#cell34)"><g filter="url(#mblur)">
<path d="M288.8 558.2 l8 0.5 l5 6 l-2 5 l-7 -1 z M290.8 574.2 l9 10 l-1.5 4 l-9 -9 z" fill="#030303" filter="url(#sblur)"/>
<path d="M284.30 555.22 C285.12 555.94 285.26 556.25 286.36 557.91 C287.46 559.57 287.57 559.74 288.43 561.45 C289.29 563.16 288.51 563.14 289.58 564.31 C290.66 565.48 291.16 564.57 292.46 565.83 C293.76 567.09 293.86 567.19 294.46 569.03 C295.06 570.87 295.23 572.24 294.71 572.74 C294.19 573.23 293.35 570.66 292.51 570.88 C291.68 571.11 291.67 571.85 291.57 573.58 C291.46 575.31 291.72 574.67 292.13 577.37 C292.54 580.06 292.48 579.98 293.11 583.69 C293.74 587.39 293.75 587.22 294.49 591.27 C295.23 595.31 295.46 595.48 295.88 598.85 C296.30 602.22 296.24 601.74 296.07 603.90 C295.90 606.06 295.10 605.72 295.25 606.93 C295.40 608.14 295.67 607.77 296.65 608.45 C297.63 609.12 298.10 608.74 298.93 609.46 C299.76 610.18 299.83 610.29 299.77 611.14 C299.71 612.00 299.68 612.30 298.69 612.66 C297.70 613.02 298.08 612.63 296.05 612.49 C294.02 612.36 293.01 612.74 291.08 612.15 C289.15 611.57 289.86 610.57 288.80 610.30 C287.74 610.03 287.83 610.16 287.10 611.14 C286.37 612.13 286.36 607.89 286.05 614.01 C285.74 620.13 286.56 628.74 285.95 634.09 C285.34 639.45 284.36 639.45 283.75 634.09 C283.14 628.74 283.98 620.13 283.65 614.01 C283.32 607.89 283.26 612.13 282.50 611.14 C281.74 610.16 281.86 610.03 280.80 610.30 C279.74 610.57 280.45 611.57 278.52 612.15 C276.59 612.74 275.58 612.36 273.55 612.49 C271.52 612.63 271.90 613.02 270.91 612.66 C269.92 612.30 269.89 612.00 269.83 611.14 C269.77 610.29 269.84 610.18 270.67 609.46 C271.50 608.74 271.97 609.12 272.95 608.45 C273.93 607.77 274.21 608.14 274.35 606.93 C274.49 605.72 273.70 606.06 273.46 603.90 C273.22 601.74 273.17 602.22 273.46 598.85 C273.74 595.48 273.96 595.31 274.54 591.27 C275.12 587.22 275.14 587.39 275.63 583.69 C276.11 579.98 276.05 580.06 276.36 577.37 C276.66 574.67 276.94 575.31 276.77 573.58 C276.60 571.85 276.56 571.11 275.71 570.88 C274.87 570.66 274.13 573.23 273.59 572.74 C273.05 572.24 273.17 570.87 273.69 569.03 C274.22 567.19 274.31 567.09 275.57 565.83 C276.82 564.57 277.35 565.48 278.38 564.31 C279.41 563.14 278.63 563.16 279.43 561.45 C280.22 559.74 280.32 559.57 281.36 557.91 C282.39 556.25 282.52 555.94 283.30 555.22 C284.09 554.50 283.49 554.50 284.30 555.22 Z" fill="url(#mouseg)"/>
<path d="M277.8 574.3 Q284.2 568.3 290.6 574.3" fill="none" stroke="#c2c2c2" stroke-width="1.2"/>
<path d="M281.2 577.7 Q284.2 580.7 287.2 577.7" fill="none" stroke="#d0d0d0" stroke-width="1"/>
<ellipse cx="284.2" cy="556.4" rx="1.5" ry="1.8" fill="#9a9a9a"/>
</g></g>
<g transform="translate(93.00 294.44) rotate(-20)"><ellipse rx="1.2" ry="1.2" fill="#b416f0"/></g>
<g transform="translate(138.90 292.94) rotate(-20)"><ellipse rx="2.0" ry="2.2" fill="#b416f0"/></g>
<g transform="translate(188.50 292.94) rotate(-20)"><ellipse rx="2.2" ry="2.8" fill="#a218f4"/><ellipse rx="1.1" ry="1.5" fill="#3b2cff"/></g>
<g transform="translate(237.00 289.75) rotate(-20)"><ellipse rx="3.4" ry="3.9" fill="#9a18f4"/><ellipse rx="2.8" ry="3.3" fill="#2a3cff"/><ellipse rx="2.2" ry="2.7" fill="#30d8f0"/><ellipse rx="1.6" ry="2.1" fill="#60f040"/><ellipse rx="0.9" ry="1.3" fill="#f4f030"/></g>
<g transform="translate(285.20 290.15) rotate(-55)"><ellipse rx="3.1" ry="5.0" fill="#9a18f4"/><ellipse rx="2.6" ry="4.4" fill="#2a3cff"/><ellipse rx="2.1" ry="3.8" fill="#30d8f0"/><ellipse rx="1.7" ry="3.2" fill="#60f040"/><ellipse rx="1.3" ry="2.5" fill="#f4f030"/><ellipse rx="0.8" ry="1.7" fill="#ff5020"/></g>
<g transform="translate(86.50 380.00) rotate(-20)"><ellipse rx="1.2" ry="1.2" fill="#b416f0"/></g>
<g transform="translate(137.90 380.00) rotate(-20)"><ellipse rx="2.0" ry="2.2" fill="#b416f0"/></g>
<g transform="translate(186.30 382.50) rotate(-20)"><ellipse rx="2.2" ry="2.8" fill="#a218f4"/><ellipse rx="1.1" ry="1.5" fill="#3b2cff"/></g>
<g transform="translate(234.00 383.60) rotate(-20)"><ellipse rx="3.0" ry="3.6" fill="#9a18f4"/><ellipse rx="2.3" ry="2.9" fill="#2a3cff"/><ellipse rx="1.6" ry="2.1" fill="#30d8f0"/><ellipse rx="0.9" ry="1.3" fill="#60f040"/></g>
<g transform="translate(286.70 382.50) rotate(-20)"><ellipse rx="3.0" ry="3.6" fill="#9a18f4"/><ellipse rx="2.3" ry="2.9" fill="#2a3cff"/><ellipse rx="1.6" ry="2.1" fill="#30d8f0"/><ellipse rx="0.9" ry="1.3" fill="#60f040"/></g>
<g transform="translate(89.40 467.66) rotate(-20)"><ellipse rx="1.2" ry="1.2" fill="#b416f0"/></g>
<g transform="translate(141.50 466.97) rotate(-20)"><ellipse rx="2.0" ry="2.2" fill="#b416f0"/></g>
<g transform="translate(184.50 469.43) rotate(-20)"><ellipse rx="2.0" ry="2.2" fill="#b416f0"/></g>
<g transform="translate(233.60 471.90) rotate(-20)"><ellipse rx="1.6" ry="2.0" fill="#a218f4"/><ellipse rx="0.7" ry="1.0" fill="#3b2cff"/></g>
<g transform="translate(283.80 471.11) rotate(-20)"><ellipse rx="2.6" ry="3.4" fill="#a218f4"/><ellipse rx="1.5" ry="2.2" fill="#3b2cff"/></g>
<g transform="translate(90.10 557.79) rotate(-20)"><ellipse rx="2.0" ry="2.2" fill="#b416f0"/></g>
<g transform="translate(140.80 560.96) rotate(-20)"><ellipse rx="2.7" ry="2.6" fill="#b416f0"/></g>
<g transform="translate(189.20 560.37) rotate(-20)"><ellipse rx="2.0" ry="2.2" fill="#b416f0"/></g>
<g transform="translate(237.20 560.96) rotate(-20)"><ellipse rx="2.0" ry="2.2" fill="#b416f0"/></g>
<g transform="translate(283.80 560.96) rotate(-20)"><ellipse rx="2.2" ry="2.8" fill="#a218f4"/><ellipse rx="1.1" ry="1.5" fill="#3b2cff"/></g>
<rect x="324.3" y="369.5" width="8.8" height="205.3" fill="url(#cbar)"/>
<text x="328.40" y="363.00" font-size="11.5" text-anchor="middle" fill="#000">cps</text>
<line x1="333.10" y1="369.50" x2="344.80" y2="369.50" stroke="#1a1a1a" stroke-width="1.0"/>
<text x="344.80" y="373.80" font-size="11.5" text-anchor="start" fill="#000">42315</text>
<line x1="333.10" y1="390.50" x2="344.80" y2="390.50" stroke="#1a1a1a" stroke-width="1.0"/>
<text x="344.80" y="394.23" font-size="11.5" text-anchor="start" fill="#000">38305</text>
<line x1="333.10" y1="410.50" x2="344.80" y2="410.50" stroke="#1a1a1a" stroke-width="1.0"/>
<text x="344.80" y="414.66" font-size="11.5" text-anchor="start" fill="#000">34295</text>
<line x1="333.10" y1="430.50" x2="344.80" y2="430.50" stroke="#1a1a1a" stroke-width="1.0"/>
<text x="344.80" y="435.09" font-size="11.5" text-anchor="start" fill="#000">30285</text>
<line x1="333.10" y1="451.50" x2="344.80" y2="451.50" stroke="#1a1a1a" stroke-width="1.0"/>
<text x="344.80" y="455.52" font-size="11.5" text-anchor="start" fill="#000">26275</text>
<line x1="333.10" y1="471.50" x2="344.80" y2="471.50" stroke="#1a1a1a" stroke-width="1.0"/>
<text x="344.80" y="475.95" font-size="11.5" text-anchor="start" fill="#000">22265</text>
<line x1="333.10" y1="492.50" x2="344.80" y2="492.50" stroke="#1a1a1a" stroke-width="1.0"/>
<text x="344.80" y="496.38" font-size="11.5" text-anchor="start" fill="#000">18255</text>
<line x1="333.10" y1="512.50" x2="344.80" y2="512.50" stroke="#1a1a1a" stroke-width="1.0"/>
<text x="344.80" y="516.81" font-size="11.5" text-anchor="start" fill="#000">14245</text>
<line x1="333.10" y1="533.50" x2="344.80" y2="533.50" stroke="#1a1a1a" stroke-width="1.0"/>
<text x="344.80" y="537.24" font-size="11.5" text-anchor="start" fill="#000">10235</text>
<line x1="333.10" y1="553.50" x2="344.80" y2="553.50" stroke="#1a1a1a" stroke-width="1.0"/>
<text x="344.80" y="557.67" font-size="11.5" text-anchor="start" fill="#000">6225</text>
<line x1="333.10" y1="573.50" x2="344.80" y2="573.50" stroke="#1a1a1a" stroke-width="1.0"/>
<text x="344.80" y="578.10" font-size="11.5" text-anchor="start" fill="#000">2215</text>
<text x="418.70" y="253.40" font-size="15.6" text-anchor="start" fill="#000">E</text>
<line x1="480.70" y1="258.40" x2="480.70" y2="415.40" stroke="#000" stroke-width="1.9"/>
<line x1="479.80" y1="414.50" x2="683.00" y2="414.50" stroke="#000" stroke-width="1.9"/>
<line x1="474.70" y1="259.30" x2="480.70" y2="259.30" stroke="#000" stroke-width="1.7"/>
<text x="472.50" y="263.60" font-size="12.3" text-anchor="end">4<tspan dx="0.7">×</tspan><tspan dx="0.5">10</tspan><tspan font-size="8.8" dy="-4.3">4</tspan></text>
<line x1="474.70" y1="298.10" x2="480.70" y2="298.10" stroke="#000" stroke-width="1.7"/>
<text x="472.50" y="302.40" font-size="12.3" text-anchor="end">3<tspan dx="0.7">×</tspan><tspan dx="0.5">10</tspan><tspan font-size="8.8" dy="-4.3">4</tspan></text>
<line x1="474.70" y1="336.90" x2="480.70" y2="336.90" stroke="#000" stroke-width="1.7"/>
<text x="472.50" y="341.20" font-size="12.3" text-anchor="end">2<tspan dx="0.7">×</tspan><tspan dx="0.5">10</tspan><tspan font-size="8.8" dy="-4.3">4</tspan></text>
<line x1="474.70" y1="375.70" x2="480.70" y2="375.70" stroke="#000" stroke-width="1.7"/>
<text x="472.50" y="380.00" font-size="12.3" text-anchor="end">1<tspan dx="0.7">×</tspan><tspan dx="0.5">10</tspan><tspan font-size="8.8" dy="-4.3">4</tspan></text>
<line x1="474.70" y1="414.50" x2="480.70" y2="414.50" stroke="#000" stroke-width="1.7"/>
<text x="472.10" y="418.90" font-size="12.3" text-anchor="end" fill="#000">0</text>
<line x1="501.90" y1="414.50" x2="501.90" y2="420.70" stroke="#000" stroke-width="1.7"/>
<text x="501.90" y="434.70" font-size="12.3" text-anchor="middle" fill="#000">7</text>
<line x1="533.90" y1="414.50" x2="533.90" y2="420.70" stroke="#000" stroke-width="1.7"/>
<text x="533.90" y="434.70" font-size="12.3" text-anchor="middle" fill="#000">14</text>
<line x1="565.90" y1="414.50" x2="565.90" y2="420.70" stroke="#000" stroke-width="1.7"/>
<text x="565.90" y="434.70" font-size="12.3" text-anchor="middle" fill="#000">21</text>
<line x1="598.00" y1="414.50" x2="598.00" y2="420.70" stroke="#000" stroke-width="1.7"/>
<text x="598.00" y="434.70" font-size="12.3" text-anchor="middle" fill="#000">28</text>
<line x1="630.20" y1="414.50" x2="630.20" y2="420.70" stroke="#000" stroke-width="1.7"/>
<text x="630.20" y="434.70" font-size="12.3" text-anchor="middle" fill="#000">35</text>
<line x1="662.30" y1="414.50" x2="662.30" y2="420.70" stroke="#000" stroke-width="1.7"/>
<text x="662.30" y="434.70" font-size="12.3" text-anchor="middle" fill="#000">42</text>
<text x="431.20" y="335.90" font-size="12.3" text-anchor="middle" fill="#000" transform="rotate(-90 431.20 335.90)">Bioluminescence (cps)</text>
<line x1="598.00" y1="403.20" x2="598.00" y2="408.00" stroke="#000000" stroke-width="1.1"/>
<line x1="595.40" y1="403.20" x2="600.60" y2="403.20" stroke="#000000" stroke-width="1.1"/>
<line x1="595.40" y1="408.00" x2="600.60" y2="408.00" stroke="#000000" stroke-width="1.1"/>
<line x1="630.20" y1="366.60" x2="630.20" y2="382.20" stroke="#000000" stroke-width="1.1"/>
<line x1="627.60" y1="366.60" x2="632.80" y2="366.60" stroke="#000000" stroke-width="1.1"/>
<line x1="627.60" y1="382.20" x2="632.80" y2="382.20" stroke="#000000" stroke-width="1.1"/>
<line x1="662.30" y1="297.20" x2="662.30" y2="334.00" stroke="#000000" stroke-width="1.1"/>
<line x1="659.70" y1="297.20" x2="664.90" y2="297.20" stroke="#000000" stroke-width="1.1"/>
<line x1="659.70" y1="334.00" x2="664.90" y2="334.00" stroke="#000000" stroke-width="1.1"/>
<polyline points="501.90,414.00 533.90,414.00 565.90,413.40 598.00,405.60 630.20,374.50 662.30,315.40" fill="none" stroke="#000000" stroke-width="1.35"/>
<circle cx="501.90" cy="414.00" r="3.05" fill="#000000"/>
<circle cx="533.90" cy="414.00" r="3.05" fill="#000000"/>
<circle cx="565.90" cy="413.40" r="3.05" fill="#000000"/>
<circle cx="598.00" cy="405.60" r="3.05" fill="#000000"/>
<circle cx="630.20" cy="374.50" r="3.05" fill="#000000"/>
<circle cx="662.30" cy="315.40" r="3.05" fill="#000000"/>
<line x1="630.20" y1="397.30" x2="630.20" y2="404.90" stroke="#f0787a" stroke-width="1.1"/>
<line x1="627.60" y1="397.30" x2="632.80" y2="397.30" stroke="#f0787a" stroke-width="1.1"/>
<line x1="627.60" y1="404.90" x2="632.80" y2="404.90" stroke="#f0787a" stroke-width="1.1"/>
<line x1="662.30" y1="372.80" x2="662.30" y2="395.60" stroke="#f0787a" stroke-width="1.1"/>
<line x1="659.70" y1="372.80" x2="664.90" y2="372.80" stroke="#f0787a" stroke-width="1.1"/>
<line x1="659.70" y1="395.60" x2="664.90" y2="395.60" stroke="#f0787a" stroke-width="1.1"/>
<polyline points="501.90,414.00 533.90,414.00 565.90,413.40 598.00,410.00 630.20,401.00 662.30,384.30" fill="none" stroke="#f0787a" stroke-width="1.35"/>
<rect x="500.00" y="412.10" width="3.8" height="3.8" fill="#f0787a"/>
<rect x="532.00" y="412.10" width="3.8" height="3.8" fill="#f0787a"/>
<rect x="564.00" y="411.50" width="3.8" height="3.8" fill="#f0787a"/>
<rect x="596.10" y="408.10" width="3.8" height="3.8" fill="#f0787a"/>
<rect x="628.30" y="399.10" width="3.8" height="3.8" fill="#f0787a"/>
<rect x="660.40" y="382.40" width="3.8" height="3.8" fill="#f0787a"/>
<line x1="662.30" y1="395.60" x2="662.30" y2="404.60" stroke="#7b7bff" stroke-width="1.1"/>
<line x1="659.70" y1="395.60" x2="664.90" y2="395.60" stroke="#7b7bff" stroke-width="1.1"/>
<line x1="659.70" y1="404.60" x2="664.90" y2="404.60" stroke="#7b7bff" stroke-width="1.1"/>
<polyline points="501.90,414.10 533.90,414.10 565.90,413.80 598.00,413.00 630.20,411.40 662.30,400.10" fill="none" stroke="#7b7bff" stroke-width="1.35"/>
<path d="M501.90 410.90 L504.70 414.10 L501.90 417.30 L499.10 414.10 Z" fill="#7b7bff"/>
<path d="M533.90 410.90 L536.70 414.10 L533.90 417.30 L531.10 414.10 Z" fill="#7b7bff"/>
<path d="M565.90 410.60 L568.70 413.80 L565.90 417.00 L563.10 413.80 Z" fill="#7b7bff"/>
<path d="M598.00 409.80 L600.80 413.00 L598.00 416.20 L595.20 413.00 Z" fill="#7b7bff"/>
<path d="M630.20 408.20 L633.00 411.40 L630.20 414.60 L627.40 411.40 Z" fill="#7b7bff"/>
<path d="M662.30 396.90 L665.10 400.10 L662.30 403.30 L659.50 400.10 Z" fill="#7b7bff"/>
<line x1="662.30" y1="403.60" x2="662.30" y2="409.20" stroke="#a65a14" stroke-width="1.1"/>
<line x1="659.70" y1="403.60" x2="664.90" y2="403.60" stroke="#a65a14" stroke-width="1.1"/>
<line x1="659.70" y1="409.20" x2="664.90" y2="409.20" stroke="#a65a14" stroke-width="1.1"/>
<polyline points="501.90,413.80 533.90,413.80 565.90,413.60 598.00,413.40 630.20,412.60 662.30,406.40" fill="none" stroke="#a65a14" stroke-width="1.35"/>
<path d="M498.70 411.20 H505.10 L501.90 417.40 Z" fill="#a65a14"/>
<path d="M530.70 411.20 H537.10 L533.90 417.40 Z" fill="#a65a14"/>
<path d="M562.70 411.00 H569.10 L565.90 417.20 Z" fill="#a65a14"/>
<path d="M594.80 410.80 H601.20 L598.00 417.00 Z" fill="#a65a14"/>
<path d="M627.00 410.00 H633.40 L630.20 416.20 Z" fill="#a65a14"/>
<path d="M659.10 403.80 H665.50 L662.30 410.00 Z" fill="#a65a14"/>
<line x1="489.00" y1="257.20" x2="503.80" y2="257.20" stroke="#000000" stroke-width="1.3"/>
<circle cx="496.40" cy="257.20" r="3.05" fill="#000000"/>
<text x="511.60" y="261.60" font-size="12.3" text-anchor="start" fill="#000">Ctrl</text>
<line x1="489.00" y1="276.70" x2="503.80" y2="276.70" stroke="#f0787a" stroke-width="1.3"/>
<rect x="494.50" y="274.80" width="3.8" height="3.8" fill="#f0787a"/>
<text x="511.60" y="281.10" font-size="12.3" text-anchor="start" fill="#000">TMZ</text>
<line x1="489.00" y1="297.00" x2="503.80" y2="297.00" stroke="#7b7bff" stroke-width="1.3"/>
<path d="M496.40 293.80 L499.20 297.00 L496.40 300.20 L493.60 297.00 Z" fill="#7b7bff"/>
<text x="511.60" y="301.40" font-size="12.3" text-anchor="start" fill="#000">TMZ+Citronellol</text>
<line x1="489.00" y1="317.10" x2="503.80" y2="317.10" stroke="#a65a14" stroke-width="1.3"/>
<path d="M493.20 314.50 H499.60 L496.40 320.70 Z" fill="#a65a14"/>
<text x="511.60" y="321.50" font-size="12.3" text-anchor="start" fill="#000">TMZ+ZZW115</text>
<line x1="554.70" y1="252.60" x2="554.70" y2="283.60" stroke="#000" stroke-width="1.3"/>
<text x="554.50" y="267.80" font-size="13" text-anchor="middle" fill="#000" transform="rotate(90 554.50 267.80)" stroke="#000" stroke-width="0.3">****</text>
<line x1="602.20" y1="271.70" x2="602.20" y2="307.40" stroke="#000" stroke-width="1.3"/>
<text x="602.00" y="290.00" font-size="13" text-anchor="middle" fill="#000" transform="rotate(90 602.00 290.00)" stroke="#000" stroke-width="0.3">***</text>
<line x1="618.20" y1="271.70" x2="618.20" y2="327.60" stroke="#000" stroke-width="1.3"/>
<text x="618.00" y="299.80" font-size="13" text-anchor="middle" fill="#000" transform="rotate(90 618.00 299.80)" stroke="#000" stroke-width="0.3">****</text>
<text x="418.65" y="452.00" font-size="16" text-anchor="start" fill="#000">F</text>
<line x1="481.30" y1="455.40" x2="481.30" y2="610.80" stroke="#000" stroke-width="1.9"/>
<line x1="480.40" y1="609.90" x2="683.00" y2="609.90" stroke="#000" stroke-width="1.9"/>
<line x1="475.30" y1="456.30" x2="481.30" y2="456.30" stroke="#000" stroke-width="1.7"/>
<text x="472.70" y="460.70" font-size="12.3" text-anchor="end" fill="#000">26</text>
<line x1="475.30" y1="487.02" x2="481.30" y2="487.02" stroke="#000" stroke-width="1.7"/>
<text x="472.70" y="491.42" font-size="12.3" text-anchor="end" fill="#000">24</text>
<line x1="475.30" y1="517.74" x2="481.30" y2="517.74" stroke="#000" stroke-width="1.7"/>
<text x="472.70" y="522.14" font-size="12.3" text-anchor="end" fill="#000">22</text>
<line x1="475.30" y1="548.46" x2="481.30" y2="548.46" stroke="#000" stroke-width="1.7"/>
<text x="472.70" y="552.86" font-size="12.3" text-anchor="end" fill="#000">20</text>
<line x1="475.30" y1="579.18" x2="481.30" y2="579.18" stroke="#000" stroke-width="1.7"/>
<text x="472.70" y="583.58" font-size="12.3" text-anchor="end" fill="#000">18</text>
<line x1="475.30" y1="609.90" x2="481.30" y2="609.90" stroke="#000" stroke-width="1.7"/>
<text x="472.70" y="614.30" font-size="12.3" text-anchor="end" fill="#000">16</text>
<line x1="502.30" y1="609.90" x2="502.30" y2="616.10" stroke="#000" stroke-width="1.7"/>
<text x="502.30" y="630.60" font-size="12.3" text-anchor="middle" fill="#000">7</text>
<line x1="534.20" y1="609.90" x2="534.20" y2="616.10" stroke="#000" stroke-width="1.7"/>
<text x="534.20" y="630.60" font-size="12.3" text-anchor="middle" fill="#000">14</text>
<line x1="566.10" y1="609.90" x2="566.10" y2="616.10" stroke="#000" stroke-width="1.7"/>
<text x="566.10" y="630.60" font-size="12.3" text-anchor="middle" fill="#000">21</text>
<line x1="598.10" y1="609.90" x2="598.10" y2="616.10" stroke="#000" stroke-width="1.7"/>
<text x="598.10" y="630.60" font-size="12.3" text-anchor="middle" fill="#000">28</text>
<line x1="630.00" y1="609.90" x2="630.00" y2="616.10" stroke="#000" stroke-width="1.7"/>
<text x="630.00" y="630.60" font-size="12.3" text-anchor="middle" fill="#000">35</text>
<line x1="661.90" y1="609.90" x2="661.90" y2="616.10" stroke="#000" stroke-width="1.7"/>
<text x="661.90" y="630.60" font-size="12.3" text-anchor="middle" fill="#000">42</text>
<text x="450.00" y="533.10" font-size="12.3" text-anchor="middle" fill="#000" transform="rotate(-90 450.00 533.10)">Body Weight (g)</text>
<line x1="502.30" y1="552.30" x2="502.30" y2="569.20" stroke="#000000" stroke-width="1.1"/>
<line x1="499.70" y1="552.30" x2="504.90" y2="552.30" stroke="#000000" stroke-width="1.1"/>
<line x1="499.70" y1="569.20" x2="504.90" y2="569.20" stroke="#000000" stroke-width="1.1"/>
<line x1="534.20" y1="542.32" x2="534.20" y2="557.68" stroke="#000000" stroke-width="1.1"/>
<line x1="531.60" y1="542.32" x2="536.80" y2="542.32" stroke="#000000" stroke-width="1.1"/>
<line x1="531.60" y1="557.68" x2="536.80" y2="557.68" stroke="#000000" stroke-width="1.1"/>
<line x1="566.10" y1="537.71" x2="566.10" y2="556.14" stroke="#000000" stroke-width="1.1"/>
<line x1="563.50" y1="537.71" x2="568.70" y2="537.71" stroke="#000000" stroke-width="1.1"/>
<line x1="563.50" y1="556.14" x2="568.70" y2="556.14" stroke="#000000" stroke-width="1.1"/>
<line x1="598.10" y1="550.76" x2="598.10" y2="566.12" stroke="#000000" stroke-width="1.1"/>
<line x1="595.50" y1="550.76" x2="600.70" y2="550.76" stroke="#000000" stroke-width="1.1"/>
<line x1="595.50" y1="566.12" x2="600.70" y2="566.12" stroke="#000000" stroke-width="1.1"/>
<line x1="630.00" y1="556.14" x2="630.00" y2="576.11" stroke="#000000" stroke-width="1.1"/>
<line x1="627.40" y1="556.14" x2="632.60" y2="556.14" stroke="#000000" stroke-width="1.1"/>
<line x1="627.40" y1="576.11" x2="632.60" y2="576.11" stroke="#000000" stroke-width="1.1"/>
<line x1="661.90" y1="555.37" x2="661.90" y2="586.09" stroke="#000000" stroke-width="1.1"/>
<line x1="659.30" y1="555.37" x2="664.50" y2="555.37" stroke="#000000" stroke-width="1.1"/>
<line x1="659.30" y1="586.09" x2="664.50" y2="586.09" stroke="#000000" stroke-width="1.1"/>
<polyline points="502.30,560.75 534.20,550.00 566.10,546.92 598.10,558.44 630.00,566.12 661.90,570.73" fill="none" stroke="#000000" stroke-width="1.35"/>
<circle cx="502.30" cy="560.75" r="3.05" fill="#000000"/>
<circle cx="534.20" cy="550.00" r="3.05" fill="#000000"/>
<circle cx="566.10" cy="546.92" r="3.05" fill="#000000"/>
<circle cx="598.10" cy="558.44" r="3.05" fill="#000000"/>
<circle cx="630.00" cy="566.12" r="3.05" fill="#000000"/>
<circle cx="661.90" cy="570.73" r="3.05" fill="#000000"/>
<line x1="502.30" y1="553.07" x2="502.30" y2="576.11" stroke="#f0787a" stroke-width="1.1"/>
<line x1="499.70" y1="553.07" x2="504.90" y2="553.07" stroke="#f0787a" stroke-width="1.1"/>
<line x1="499.70" y1="576.11" x2="504.90" y2="576.11" stroke="#f0787a" stroke-width="1.1"/>
<line x1="534.20" y1="535.40" x2="534.20" y2="550.76" stroke="#f0787a" stroke-width="1.1"/>
<line x1="531.60" y1="535.40" x2="536.80" y2="535.40" stroke="#f0787a" stroke-width="1.1"/>
<line x1="531.60" y1="550.76" x2="536.80" y2="550.76" stroke="#f0787a" stroke-width="1.1"/>
<line x1="566.10" y1="534.64" x2="566.10" y2="556.14" stroke="#f0787a" stroke-width="1.1"/>
<line x1="563.50" y1="534.64" x2="568.70" y2="534.64" stroke="#f0787a" stroke-width="1.1"/>
<line x1="563.50" y1="556.14" x2="568.70" y2="556.14" stroke="#f0787a" stroke-width="1.1"/>
<line x1="598.10" y1="533.10" x2="598.10" y2="554.60" stroke="#f0787a" stroke-width="1.1"/>
<line x1="595.50" y1="533.10" x2="600.70" y2="533.10" stroke="#f0787a" stroke-width="1.1"/>
<line x1="595.50" y1="554.60" x2="600.70" y2="554.60" stroke="#f0787a" stroke-width="1.1"/>
<line x1="630.00" y1="513.90" x2="630.00" y2="550.76" stroke="#f0787a" stroke-width="1.1"/>
<line x1="627.40" y1="513.90" x2="632.60" y2="513.90" stroke="#f0787a" stroke-width="1.1"/>
<line x1="627.40" y1="550.76" x2="632.60" y2="550.76" stroke="#f0787a" stroke-width="1.1"/>
<line x1="661.90" y1="516.97" x2="661.90" y2="553.84" stroke="#f0787a" stroke-width="1.1"/>
<line x1="659.30" y1="516.97" x2="664.50" y2="516.97" stroke="#f0787a" stroke-width="1.1"/>
<line x1="659.30" y1="553.84" x2="664.50" y2="553.84" stroke="#f0787a" stroke-width="1.1"/>
<polyline points="502.30,564.59 534.20,543.08 566.10,545.39 598.10,543.85 630.00,532.33 661.90,535.40" fill="none" stroke="#f0787a" stroke-width="1.35"/>
<rect x="500.40" y="562.69" width="3.8" height="3.8" fill="#f0787a"/>
<rect x="532.30" y="541.18" width="3.8" height="3.8" fill="#f0787a"/>
<rect x="564.20" y="543.49" width="3.8" height="3.8" fill="#f0787a"/>
<rect x="596.20" y="541.95" width="3.8" height="3.8" fill="#f0787a"/>
<rect x="628.10" y="530.43" width="3.8" height="3.8" fill="#f0787a"/>
<rect x="660.00" y="533.50" width="3.8" height="3.8" fill="#f0787a"/>
<line x1="502.30" y1="552.30" x2="502.30" y2="578.41" stroke="#7b7bff" stroke-width="1.1"/>
<line x1="499.70" y1="552.30" x2="504.90" y2="552.30" stroke="#7b7bff" stroke-width="1.1"/>
<line x1="499.70" y1="578.41" x2="504.90" y2="578.41" stroke="#7b7bff" stroke-width="1.1"/>
<line x1="534.20" y1="539.24" x2="534.20" y2="560.75" stroke="#7b7bff" stroke-width="1.1"/>
<line x1="531.60" y1="539.24" x2="536.80" y2="539.24" stroke="#7b7bff" stroke-width="1.1"/>
<line x1="531.60" y1="560.75" x2="536.80" y2="560.75" stroke="#7b7bff" stroke-width="1.1"/>
<line x1="566.10" y1="536.17" x2="566.10" y2="560.75" stroke="#7b7bff" stroke-width="1.1"/>
<line x1="563.50" y1="536.17" x2="568.70" y2="536.17" stroke="#7b7bff" stroke-width="1.1"/>
<line x1="563.50" y1="560.75" x2="568.70" y2="560.75" stroke="#7b7bff" stroke-width="1.1"/>
<line x1="598.10" y1="534.64" x2="598.10" y2="559.21" stroke="#7b7bff" stroke-width="1.1"/>
<line x1="595.50" y1="534.64" x2="600.70" y2="534.64" stroke="#7b7bff" stroke-width="1.1"/>
<line x1="595.50" y1="559.21" x2="600.70" y2="559.21" stroke="#7b7bff" stroke-width="1.1"/>
<line x1="630.00" y1="533.10" x2="630.00" y2="557.68" stroke="#7b7bff" stroke-width="1.1"/>
<line x1="627.40" y1="533.10" x2="632.60" y2="533.10" stroke="#7b7bff" stroke-width="1.1"/>
<line x1="627.40" y1="557.68" x2="632.60" y2="557.68" stroke="#7b7bff" stroke-width="1.1"/>
<line x1="661.90" y1="526.19" x2="661.90" y2="555.37" stroke="#7b7bff" stroke-width="1.1"/>
<line x1="659.30" y1="526.19" x2="664.50" y2="526.19" stroke="#7b7bff" stroke-width="1.1"/>
<line x1="659.30" y1="555.37" x2="664.50" y2="555.37" stroke="#7b7bff" stroke-width="1.1"/>
<polyline points="502.30,565.36 534.20,550.00 566.10,548.46 598.10,546.92 630.00,545.39 661.90,540.78" fill="none" stroke="#7b7bff" stroke-width="1.35"/>
<path d="M502.30 562.16 L505.10 565.36 L502.30 568.56 L499.50 565.36 Z" fill="#7b7bff"/>
<path d="M534.20 546.80 L537.00 550.00 L534.20 553.20 L531.40 550.00 Z" fill="#7b7bff"/>
<path d="M566.10 545.26 L568.90 548.46 L566.10 551.66 L563.30 548.46 Z" fill="#7b7bff"/>
<path d="M598.10 543.72 L600.90 546.92 L598.10 550.12 L595.30 546.92 Z" fill="#7b7bff"/>
<path d="M630.00 542.19 L632.80 545.39 L630.00 548.59 L627.20 545.39 Z" fill="#7b7bff"/>
<path d="M661.90 537.58 L664.70 540.78 L661.90 543.98 L659.10 540.78 Z" fill="#7b7bff"/>
<line x1="502.30" y1="545.39" x2="502.30" y2="569.96" stroke="#a65a14" stroke-width="1.1"/>
<line x1="499.70" y1="545.39" x2="504.90" y2="545.39" stroke="#a65a14" stroke-width="1.1"/>
<line x1="499.70" y1="569.96" x2="504.90" y2="569.96" stroke="#a65a14" stroke-width="1.1"/>
<line x1="534.20" y1="546.92" x2="534.20" y2="563.82" stroke="#a65a14" stroke-width="1.1"/>
<line x1="531.60" y1="546.92" x2="536.80" y2="546.92" stroke="#a65a14" stroke-width="1.1"/>
<line x1="531.60" y1="563.82" x2="536.80" y2="563.82" stroke="#a65a14" stroke-width="1.1"/>
<line x1="566.10" y1="536.94" x2="566.10" y2="555.37" stroke="#a65a14" stroke-width="1.1"/>
<line x1="563.50" y1="536.94" x2="568.70" y2="536.94" stroke="#a65a14" stroke-width="1.1"/>
<line x1="563.50" y1="555.37" x2="568.70" y2="555.37" stroke="#a65a14" stroke-width="1.1"/>
<line x1="598.10" y1="521.58" x2="598.10" y2="555.37" stroke="#a65a14" stroke-width="1.1"/>
<line x1="595.50" y1="521.58" x2="600.70" y2="521.58" stroke="#a65a14" stroke-width="1.1"/>
<line x1="595.50" y1="555.37" x2="600.70" y2="555.37" stroke="#a65a14" stroke-width="1.1"/>
<line x1="630.00" y1="520.81" x2="630.00" y2="557.68" stroke="#a65a14" stroke-width="1.1"/>
<line x1="627.40" y1="520.81" x2="632.60" y2="520.81" stroke="#a65a14" stroke-width="1.1"/>
<line x1="627.40" y1="557.68" x2="632.60" y2="557.68" stroke="#a65a14" stroke-width="1.1"/>
<line x1="661.90" y1="513.13" x2="661.90" y2="556.14" stroke="#a65a14" stroke-width="1.1"/>
<line x1="659.30" y1="513.13" x2="664.50" y2="513.13" stroke="#a65a14" stroke-width="1.1"/>
<line x1="659.30" y1="556.14" x2="664.50" y2="556.14" stroke="#a65a14" stroke-width="1.1"/>
<polyline points="502.30,557.68 534.20,555.37 566.10,546.16 598.10,538.48 630.00,539.24 661.90,534.64" fill="none" stroke="#a65a14" stroke-width="1.35"/>
<path d="M499.10 555.08 H505.50 L502.30 561.28 Z" fill="#a65a14"/>
<path d="M531.00 552.77 H537.40 L534.20 558.97 Z" fill="#a65a14"/>
<path d="M562.90 543.56 H569.30 L566.10 549.76 Z" fill="#a65a14"/>
<path d="M594.90 535.88 H601.30 L598.10 542.08 Z" fill="#a65a14"/>
<path d="M626.80 536.64 H633.20 L630.00 542.84 Z" fill="#a65a14"/>
<path d="M658.70 532.04 H665.10 L661.90 538.24 Z" fill="#a65a14"/>
<line x1="490.20" y1="450.60" x2="505.00" y2="450.60" stroke="#000000" stroke-width="1.3"/>
<circle cx="497.60" cy="450.60" r="3.05" fill="#000000"/>
<text x="512.80" y="455.00" font-size="12.3" text-anchor="start" fill="#000">Ctrl</text>
<line x1="490.20" y1="470.40" x2="505.00" y2="470.40" stroke="#f0787a" stroke-width="1.3"/>
<rect x="495.70" y="468.50" width="3.8" height="3.8" fill="#f0787a"/>
<text x="512.80" y="474.80" font-size="12.3" text-anchor="start" fill="#000">TMZ</text>
<line x1="490.20" y1="490.90" x2="505.00" y2="490.90" stroke="#7b7bff" stroke-width="1.3"/>
<path d="M497.60 487.70 L500.40 490.90 L497.60 494.10 L494.80 490.90 Z" fill="#7b7bff"/>
<text x="512.80" y="495.30" font-size="12.3" text-anchor="start" fill="#000">TMZ+Citronellol</text>
<line x1="490.20" y1="510.60" x2="505.00" y2="510.60" stroke="#a65a14" stroke-width="1.3"/>
<path d="M494.40 508.00 H500.80 L497.60 514.20 Z" fill="#a65a14"/>
<text x="512.80" y="515.00" font-size="12.3" text-anchor="start" fill="#000">TMZ+ZZW115</text>
<text x="582.40" y="649.70" font-size="12.3" text-anchor="middle" fill="#000">Time elapsed (day)</text>
<text x="3.30" y="666.30" font-size="16" text-anchor="start" fill="#000">G</text>
<rect x="38.2" y="666.0" width="592.3" height="207.0" rx="12.5" ry="12.5" fill="#fdfcf3" stroke="#c29a32" stroke-width="1.5"/>
<text x="89.20" y="723.50" font-size="14.35" text-anchor="middle" fill="#000">TMZ</text>
<path d="M125.2 702.6 h8.9 v9.7 h10.5 v9.7 h-10.5 v10 h-8.9 v-10 h-10.6 v-9.7 h10.6 z" fill="#eebfc7"/>
<text x="156.60" y="710.40" font-size="14.3" text-anchor="start" fill="#000">ZZW115 /</text>
<text x="156.60" y="727.60" font-size="14.2" text-anchor="start" fill="#000">Citronellol</text>
<line x1="87.20" y1="732.60" x2="87.20" y2="802.00" stroke="#000" stroke-width="1.2"/>
<path d="M0 0 L-7.0 -3.01 L-7.0 3.01 Z" fill="#000" transform="translate(87.20 807.60) rotate(90)"/>
<path d="M196.6 730.6 C207 733.5 231 738 231.3 747.5 C231.5 755.5 215 757.6 202.5 758.9" fill="none" stroke="#000" stroke-width="1.1"/>
<path d="M0 0 L-7.6 -3.27 L-7.6 3.27 Z" fill="#000" transform="translate(195.60 759.60) rotate(174)"/>
<rect x="232.8" y="733.4" width="58.4" height="31.6" rx="5.5" ry="5.5" fill="#efc0be" stroke="#111" stroke-width="1.35"/>
<text x="262.40" y="753.60" font-size="14" text-anchor="middle" font-weight="bold" fill="#000">RIPK1</text>
<rect x="151.2" y="764.2" width="73.7" height="24.5" rx="5" ry="5" fill="#ebf0f4" stroke="#222" stroke-width="1.1"/>
<text x="187.40" y="781.80" font-size="14.3" text-anchor="middle" fill="#000">p-MLKL</text>
<line x1="187.50" y1="788.80" x2="187.50" y2="803.00" stroke="#000" stroke-width="1.2"/>
<path d="M0 0 L-7.0 -3.01 L-7.0 3.01 Z" fill="#000" transform="translate(187.50 808.70) rotate(90)"/>
<text x="87.60" y="820.00" font-size="14.35" text-anchor="middle" fill="#000">Apoptosis</text>
<text x="187.60" y="820.00" font-size="14.35" text-anchor="middle" fill="#000">Necroptosis</text>
<path d="M87.4 823.4 V830.2 H187.7 V823.4 M142.4 830.2 V837.4 M136.6 837.6 H148.4" fill="none" stroke="#000" stroke-width="1.1"/>
<path d="M115.44 839.60 C118.44 838.20 120.04 838.89 124.20 839.16 C128.35 839.43 129.23 840.02 133.25 840.77 C137.27 841.52 139.11 841.73 141.42 842.37 C143.74 843.02 144.06 842.21 143.18 843.54 C142.29 844.87 139.19 846.40 137.63 848.07 C136.06 849.73 136.19 849.19 136.46 850.69 C136.73 852.19 137.23 852.58 138.80 854.49 C140.36 856.40 143.11 857.44 143.18 858.87 C143.24 860.30 141.95 860.31 139.09 860.62 C136.23 860.93 133.91 860.93 130.91 860.18 C127.91 859.43 128.49 858.29 126.24 857.41 C123.99 856.52 124.14 856.76 121.28 856.39 C118.42 856.01 116.81 856.65 113.98 855.80 C111.15 854.95 110.49 854.00 109.16 852.74 C107.83 851.48 107.77 852.17 108.28 850.40 C108.80 848.63 109.68 847.67 111.35 845.15 C113.02 842.63 112.44 841.00 115.44 839.60 Z" fill="#d6c9e5" stroke="#8c70b2" stroke-width="1"/>
<ellipse cx="126.1" cy="849.1" rx="5.3" ry="4.3" fill="#a990c2" stroke="#8c70b2" stroke-width="0.7" transform="rotate(12 126.1 849.1)"/>
<text x="144.80" y="855.00" font-size="14.35" text-anchor="start" fill="#000">Glioma</text>
<path d="M291.8 752.0 H299.6 M308.8 710.1 H299.6 V791.2 H308.8" fill="none" stroke="#000" stroke-width="1.25"/>
<path d="M0 0 L-7.0 -3.01 L-7.0 3.01 Z" fill="#000" transform="translate(314.00 710.10) rotate(0)"/>
<path d="M0 0 L-7.0 -3.01 L-7.0 3.01 Z" fill="#000" transform="translate(314.00 791.20) rotate(0)"/>
<path d="M379.97 690.59 L394.11 700.54 L387.68 705.04 L383.83 697.65 Z" fill="#fff" stroke="#2c5a8c" stroke-width="1.0" stroke-linejoin="round"/>
<path d="M352.80 673.03 A34.3 34.3 0 0 1 375.55 731.55 L368.56 726.47 A25.8 25.8 0 0 0 353.32 681.58 Z" fill="#ffffff" stroke="#2c5a8c" stroke-width="1.0" stroke-linejoin="round"/>
<path d="M371.46 735.05 A34.3 34.3 0 0 1 318.68 717.90 L326.76 715.27 A25.8 25.8 0 0 0 365.73 728.69 Z" fill="#dce9f5" stroke="#1f2f7a" stroke-width="1.35" stroke-linejoin="round"/>
<path d="M318.02 715.60 A34.3 34.3 0 0 1 327.05 683.05 L333.06 689.06 A25.8 25.8 0 0 0 326.27 713.54 Z" fill="#dce9f5" stroke="#1f2f7a" stroke-width="1.35" stroke-linejoin="round"/>
<path d="M328.85 680.02 A34.3 34.3 0 0 1 347.61 672.16 L350.67 680.50 A25.8 25.8 0 0 0 334.32 686.54 Z" fill="#dce9f5" stroke="#1f2f7a" stroke-width="1.35" stroke-linejoin="round"/>
<text x="347.10" y="696.00" font-size="13" text-anchor="middle" fill="#000">M</text>
<text x="327.0" y="709.4" font-size="13.4">G<tspan font-size="8.6" dy="2.8">2</tspan></text>
<text x="346.90" y="730.90" font-size="13" text-anchor="middle" fill="#000">S</text>
<path d="M317.04 758.47 Q337.12 759.27 346.75 772.12" fill="none" stroke="#b6d3ef" stroke-width="1.0" stroke-linecap="round"/>
<path d="M356.39 744.82 Q353.18 759.27 366.02 773.72" fill="none" stroke="#b6d3ef" stroke-width="1.0" stroke-linecap="round"/>
<path d="M361.21 756.86 Q372.45 755.26 378.87 756.06" fill="none" stroke="#b6d3ef" stroke-width="1.0" stroke-linecap="round"/>
<path d="M324.27 776.94 Q322.67 796.21 337.92 813.87" fill="none" stroke="#b6d3ef" stroke-width="1.0" stroke-linecap="round"/>
<path d="M321.06 809.05 Q340.33 801.02 358.00 788.18" fill="none" stroke="#b6d3ef" stroke-width="1.0" stroke-linecap="round"/>
<path d="M349.97 770.51 Q377.27 772.12 389.31 786.57" fill="none" stroke="#b6d3ef" stroke-width="1.0" stroke-linecap="round"/>
<path d="M375.66 788.18 Q383.69 772.12 390.11 772.12" fill="none" stroke="#b6d3ef" stroke-width="1.0" stroke-linecap="round"/>
<path d="M358.00 815.48 Q385.30 797.81 402.96 810.66" fill="none" stroke="#b6d3ef" stroke-width="1.0" stroke-linecap="round"/>
<path d="M333.91 804.24 Q353.18 812.27 353.98 824.31" fill="none" stroke="#b6d3ef" stroke-width="1.0" stroke-linecap="round"/>
<path d="M367.63 776.94 Q372.45 801.02 369.24 817.89" fill="none" stroke="#b6d3ef" stroke-width="1.0" stroke-linecap="round"/>
<path d="M345.15 793.00 Q361.21 807.45 383.69 807.45" fill="none" stroke="#b6d3ef" stroke-width="1.0" stroke-linecap="round"/>
<path d="M339.53 818.69 Q346.75 801.02 345.15 788.18" fill="none" stroke="#b6d3ef" stroke-width="1.0" stroke-linecap="round"/>
<path d="M325.88 768.91 Q332.30 788.18 327.48 793.00" fill="none" stroke="#b6d3ef" stroke-width="1.0" stroke-linecap="round"/>
<path d="M362.81 817.08 Q374.05 815.48 380.48 804.24" fill="none" stroke="#b6d3ef" stroke-width="1.0" stroke-linecap="round"/>
<path d="M356.39 759.27 Q364.42 751.24 374.05 749.96" fill="none" stroke="#7096d6" stroke-width="1.0" stroke-linecap="round"/>
<path d="M338.72 782.56 Q345.15 767.30 354.78 757.67" fill="none" stroke="#7096d6" stroke-width="1.0" stroke-linecap="round"/>
<path d="M320.26 786.57 Q337.12 793.00 346.75 807.45" fill="none" stroke="#7096d6" stroke-width="1.0" stroke-linecap="round"/>
<path d="M331.50 762.48 Q337.12 780.15 330.69 801.02" fill="none" stroke="#7096d6" stroke-width="1.0" stroke-linecap="round"/>
<path d="M358.00 764.09 Q382.08 776.94 393.33 794.60" fill="none" stroke="#7096d6" stroke-width="1.0" stroke-linecap="round"/>
<path d="M341.94 815.48 Q358.00 801.02 377.27 799.42" fill="none" stroke="#7096d6" stroke-width="1.0" stroke-linecap="round"/>
<path d="M351.57 820.30 Q370.84 807.45 374.05 780.15" fill="none" stroke="#7096d6" stroke-width="1.0" stroke-linecap="round"/>
<path d="M321.06 810.66 Q345.15 804.24 369.24 817.08" fill="none" stroke="#7096d6" stroke-width="1.0" stroke-linecap="round"/>
<path d="M382.08 776.94 Q391.72 788.18 388.51 804.24" fill="none" stroke="#7096d6" stroke-width="1.0" stroke-linecap="round"/>
<path d="M356.39 770.51 L359.28 775.97 L362.33 778.54 L369.24 775.01 L370.52 778.86 L368.43 786.57 L362.81 791.39 L360.40 798.62 L353.18 804.24 L348.36 799.42 L344.34 793.00 L347.56 784.16 L352.37 776.94 Z" fill="#d6c9e5" stroke="#8c70b2" stroke-width="1.0" stroke-linejoin="round"/>
<ellipse cx="356.1" cy="787.1" rx="4.4" ry="5.3" fill="#a990c2" stroke="#8c70b2" stroke-width="0.7" transform="rotate(20 356.1 787.1)"/>
<path d="M341.13 763.77 Q366.02 751.24 392.52 772.12" fill="none" stroke="#1c2c70" stroke-width="1.2" stroke-linecap="round"/>
<path d="M317.85 776.94 Q329.09 776.13 331.50 762.48" fill="none" stroke="#1c2c70" stroke-width="1.2" stroke-linecap="round"/>
<path d="M331.50 762.48 Q335.51 760.56 339.53 760.07" fill="none" stroke="#1c2c70" stroke-width="1.2" stroke-linecap="round"/>
<path d="M312.71 800.38 Q325.88 793.00 332.62 773.40" fill="none" stroke="#1c2c70" stroke-width="1.2" stroke-linecap="round"/>
<path d="M312.23 794.60 Q322.67 796.21 329.09 809.05" fill="none" stroke="#1c2c70" stroke-width="1.2" stroke-linecap="round"/>
<path d="M329.09 809.05 Q333.91 817.08 342.74 818.69" fill="none" stroke="#1c2c70" stroke-width="1.2" stroke-linecap="round"/>
<path d="M345.95 806.65 Q347.07 816.28 353.18 823.51" fill="none" stroke="#1c2c70" stroke-width="1.2" stroke-linecap="round"/>
<path d="M353.98 823.51 Q358.00 816.28 367.63 814.67" fill="none" stroke="#1c2c70" stroke-width="1.2" stroke-linecap="round"/>
<path d="M369.24 815.48 Q374.05 806.65 383.69 805.84" fill="none" stroke="#1c2c70" stroke-width="1.2" stroke-linecap="round"/>
<path d="M383.69 804.24 Q384.33 809.05 383.69 814.67" fill="none" stroke="#1c2c70" stroke-width="1.2" stroke-linecap="round"/>
<path d="M374.05 774.53 Q373.25 789.78 380.48 795.40" fill="none" stroke="#1c2c70" stroke-width="1.2" stroke-linecap="round"/>
<path d="M380.48 795.40 Q383.69 798.62 384.49 803.43" fill="none" stroke="#1c2c70" stroke-width="1.2" stroke-linecap="round"/>
<path d="M391.72 795.40 Q390.92 803.43 385.30 805.84" fill="none" stroke="#1c2c70" stroke-width="1.2" stroke-linecap="round"/>
<path d="M347.56 757.67 Q350.77 761.68 356.39 764.09" fill="none" stroke="#1c2c70" stroke-width="1.2" stroke-linecap="round"/>
<text x="425.00" y="714.60" font-size="14.1" text-anchor="middle" fill="#000">Cell cycle</text>
<text x="499.50" y="703.40" font-size="14.1" text-anchor="middle" fill="#000">Proliferation</text>
<line x1="460.30" y1="710.40" x2="532.00" y2="710.40" stroke="#000" stroke-width="1.35"/>
<path d="M0 0 L-8.6 -3.90 L-8.6 3.90 Z" fill="#000" transform="translate(538.80 710.40) rotate(0)"/>
<text x="425.40" y="799.10" font-size="14.1" text-anchor="middle" fill="#000">ECM</text>
<text x="497.90" y="787.90" font-size="14.1" text-anchor="middle" fill="#000">Migration</text>
<text x="497.90" y="805.10" font-size="14.1" text-anchor="middle" fill="#000">Invasion</text>
<line x1="460.30" y1="791.90" x2="532.00" y2="791.90" stroke="#000" stroke-width="1.35"/>
<path d="M0 0 L-8.6 -3.90 L-8.6 3.90 Z" fill="#000" transform="translate(538.80 791.90) rotate(0)"/>
<path d="M552.84 688.24 C555.03 687.04 560.70 686.24 564.70 685.69 C568.70 685.14 577.97 683.53 579.48 684.60 C580.98 685.66 574.35 690.48 574.73 692.81 C575.12 695.13 582.03 698.43 582.03 700.10 C582.03 701.77 577.20 703.36 574.73 703.94 C572.27 704.51 567.94 703.55 565.61 703.94 C563.29 704.32 561.83 706.93 559.23 706.49 C556.63 706.05 549.65 702.93 548.28 701.02 C546.91 699.10 549.42 695.63 550.10 693.72 C550.79 691.80 550.65 689.45 552.84 688.24 Z" fill="#d6c9e5" stroke="#8c70b2" stroke-width="1" stroke-linejoin="round"/>
<ellipse cx="565.25" cy="695.18" rx="5.47" ry="4.01" fill="#a990c2" stroke="#8c70b2" stroke-width="0.7" transform="rotate(8 565.25 695.18)"/>
<path d="M582.94 693.72 C584.04 692.08 588.05 689.52 590.24 690.07 C592.43 690.62 595.49 695.31 597.54 697.37 C599.59 699.42 603.24 701.29 603.93 703.75 C604.61 706.22 603.20 710.91 602.10 713.79 C601.01 716.66 598.27 722.64 596.63 722.91 C594.99 723.18 593.48 716.98 591.15 715.61 C588.83 714.24 583.17 715.02 581.12 713.79 C579.07 712.56 577.20 709.32 577.47 707.40 C577.74 705.49 582.12 703.07 582.94 701.02 C583.77 698.96 581.85 695.36 582.94 693.72 Z" fill="#d6c9e5" stroke="#8c70b2" stroke-width="1" stroke-linejoin="round"/>
<ellipse cx="592.43" cy="706.49" rx="4.93" ry="4.56" fill="#a990c2" stroke="#8c70b2" stroke-width="0.7" transform="rotate(20 592.43 706.49)"/>
<path d="M543.72 700.10 C544.95 699.28 546.32 703.84 549.19 704.67 C552.07 705.49 560.41 704.76 562.88 705.58 C565.34 706.40 565.75 708.09 565.61 710.14 C565.48 712.19 562.24 716.93 561.96 719.26 C561.69 721.59 564.33 724.00 563.79 725.65 C563.24 727.29 560.78 730.34 558.31 730.21 C555.85 730.07 549.83 726.38 547.37 724.73 C544.90 723.09 542.85 721.45 541.89 719.26 C540.94 717.07 540.71 713.01 540.98 710.14 C541.26 707.27 542.49 700.93 543.72 700.10 Z" fill="#d6c9e5" stroke="#8c70b2" stroke-width="1" stroke-linejoin="round"/>
<ellipse cx="552.48" cy="714.70" rx="5.29" ry="4.38" fill="#a990c2" stroke="#8c70b2" stroke-width="0.7" transform="rotate(25 552.48 714.70)"/>
<path d="M568.35 706.49 C569.85 705.53 574.64 707.86 576.56 709.23 C578.47 710.59 579.34 714.11 581.12 715.61 C582.90 717.12 587.73 717.62 588.42 719.26 C589.10 720.90 587.87 724.42 585.68 726.56 C583.49 728.69 577.11 733.22 573.82 733.49 C570.54 733.77 565.51 730.24 563.79 728.38 C562.06 726.52 561.92 723.00 562.33 721.09 C562.74 719.17 565.62 717.80 566.52 715.61 C567.43 713.42 566.84 707.45 568.35 706.49 Z" fill="#d6c9e5" stroke="#8c70b2" stroke-width="1" stroke-linejoin="round"/>
<ellipse cx="572.91" cy="721.09" rx="5.11" ry="4.56" fill="#a990c2" stroke="#8c70b2" stroke-width="0.7" transform="rotate(-20 572.91 721.09)"/>
<path d="M536.42 806.65 C537.33 805.56 541.59 803.46 543.72 801.36 C545.85 799.26 547.82 796.50 549.19 794.06 C550.56 791.63 551.08 789.20 551.93 786.77 C552.78 784.33 553.84 782.27 554.30 779.47 C554.76 776.67 554.30 772.02 554.67 769.98 C555.03 767.94 555.82 767.25 556.49 767.25 C557.16 767.25 558.13 768.25 558.68 769.98 C559.23 771.72 558.62 776.37 559.77 777.64 C560.93 778.92 562.81 778.50 565.61 777.64 C568.41 776.79 572.73 773.84 576.56 772.54 C580.39 771.23 587.99 769.10 588.60 769.80 C589.21 770.50 583.13 774.51 580.21 776.73 C577.29 778.95 573.15 780.69 571.09 783.12 C569.02 785.55 569.17 789.20 567.80 791.33 C566.43 793.46 565.06 794.83 562.88 795.89 C560.69 796.95 557.55 796.19 554.67 797.71 C551.78 799.23 548.28 803.31 545.54 805.01 C542.81 806.71 539.77 807.66 538.24 807.93 C536.72 808.20 535.51 807.75 536.42 806.65 Z" fill="#d6c9e5" stroke="#8c70b2" stroke-width="1" stroke-linejoin="round"/>
<ellipse cx="558.31" cy="787.68" rx="5.47" ry="3.65" fill="#a990c2" stroke="#8c70b2" stroke-width="0.7" transform="rotate(-40 558.31 787.68)"/>
<path d="M552.84 814.32 C554.06 812.46 560.75 806.56 563.79 803.19 C566.83 799.81 569.26 796.95 571.09 794.06 C572.91 791.18 572.91 787.98 574.73 785.85 C576.56 783.73 579.60 783.57 582.03 781.29 C584.47 779.01 586.72 774.63 589.33 772.17 C591.95 769.71 596.96 765.91 597.72 766.52 C598.48 767.12 595.29 772.90 593.89 775.82 C592.49 778.74 590.24 781.45 589.33 784.03 C588.42 786.61 589.33 789.35 588.42 791.33 C587.51 793.30 584.31 793.91 583.86 795.89 C583.40 797.87 585.04 800.91 585.68 803.19 C586.32 805.47 587.99 808.39 587.69 809.57 C587.38 810.76 584.95 811.67 583.86 810.30 C582.76 808.93 582.09 803.46 581.12 801.36 C580.15 799.26 580.00 797.41 578.02 797.71 C576.04 798.02 572.85 800.42 569.26 803.19 C565.67 805.95 559.23 812.46 556.49 814.32 C553.75 816.17 551.62 816.17 552.84 814.32 Z" fill="#d6c9e5" stroke="#8c70b2" stroke-width="1" stroke-linejoin="round"/>
<ellipse cx="579.84" cy="790.42" rx="3.83" ry="5.47" fill="#a990c2" stroke="#8c70b2" stroke-width="0.7" transform="rotate(25 579.84 790.42)"/>
</svg></body></html>
